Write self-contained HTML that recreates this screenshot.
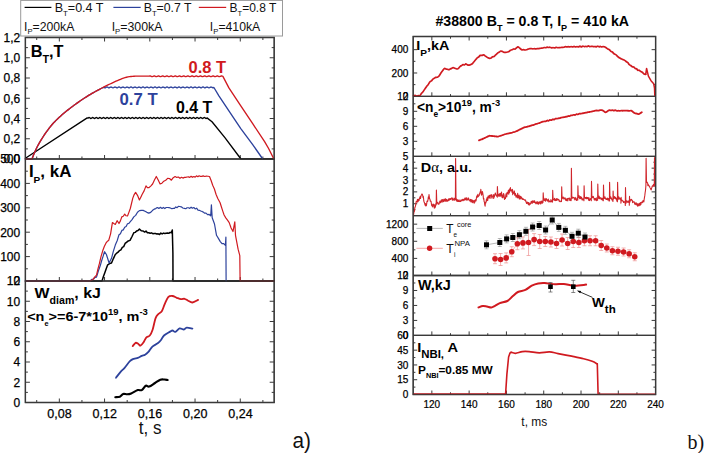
<!DOCTYPE html>
<html><head><meta charset="utf-8"><style>
html,body{margin:0;padding:0;background:#fff;}
svg{display:block;}
svg{font-family:"Liberation Sans", sans-serif;}
</style></head><body>
<svg width="704" height="453" viewBox="0 0 704 453">
<rect width="704" height="453" fill="#fff"/>
<rect x="20.7" y="0.4" width="261.8" height="35.6" fill="#fff" stroke="#9a9a9a" stroke-width="1"/>
<line x1="24.60" y1="7.40" x2="51.40" y2="7.40" stroke="#000" stroke-width="1.2"/>
<line x1="113.40" y1="7.40" x2="140.70" y2="7.40" stroke="#2d429c" stroke-width="1.2"/>
<line x1="198.80" y1="7.40" x2="226.20" y2="7.40" stroke="#d01a20" stroke-width="1.2"/>
<text transform="matrix(1.0468,0,0,1.0,54.65,11.80)" x="0" y="0" fill="#111" xml:space="preserve"><tspan font-size="12" dy="0.00">B</tspan><tspan font-size="7.5" dy="3.90">T</tspan><tspan font-size="12" dy="-3.90">=0.4 T</tspan></text>
<text transform="matrix(1.0259,0,0,1.0,143.67,11.80)" x="0" y="0" fill="#111" xml:space="preserve"><tspan font-size="12" dy="0.00">B</tspan><tspan font-size="7.5" dy="3.90">T</tspan><tspan font-size="12" dy="-3.90">=0.7 T</tspan></text>
<text transform="matrix(1.0028,0,0,1.0,229.50,11.80)" x="0" y="0" fill="#111" xml:space="preserve"><tspan font-size="12" dy="0.00">B</tspan><tspan font-size="7.5" dy="3.90">T</tspan><tspan font-size="12" dy="-3.90">=0.8 T</tspan></text>
<text transform="matrix(1.0197,0,0,1.0,24.05,30.70)" x="0" y="0" fill="#111" xml:space="preserve"><tspan font-size="12" dy="0.00">I</tspan><tspan font-size="7.5" dy="3.70">P</tspan><tspan font-size="12" dy="-3.70">=200kA</tspan></text>
<text transform="matrix(1.0321,0,0,1.0,111.64,30.70)" x="0" y="0" fill="#111" xml:space="preserve"><tspan font-size="12" dy="0.00">I</tspan><tspan font-size="7.5" dy="3.70">P</tspan><tspan font-size="12" dy="-3.70">=300kA</tspan></text>
<text transform="matrix(1.0218,0,0,1.0,209.85,30.70)" x="0" y="0" fill="#111" xml:space="preserve"><tspan font-size="12" dy="0.00">I</tspan><tspan font-size="7.5" dy="3.70">P</tspan><tspan font-size="12" dy="-3.70">=410kA</tspan></text>
<rect x="25.4" y="37.5" width="248.80" height="365.00" fill="none" stroke="#3a3a3a" stroke-width="1.3"/>
<line x1="25.40" y1="159.00" x2="274.20" y2="159.00" stroke="#3a3a3a" stroke-width="1.3"/>
<line x1="25.40" y1="281.00" x2="274.20" y2="281.00" stroke="#3a3a3a" stroke-width="1.3"/>
<line x1="36.71" y1="159.00" x2="36.71" y2="156.50" stroke="#3a3a3a" stroke-width="1.0"/>
<line x1="36.71" y1="37.50" x2="36.71" y2="40.00" stroke="#3a3a3a" stroke-width="1.0"/>
<line x1="59.33" y1="159.00" x2="59.33" y2="155.00" stroke="#3a3a3a" stroke-width="1.0"/>
<line x1="59.33" y1="37.50" x2="59.33" y2="41.50" stroke="#3a3a3a" stroke-width="1.0"/>
<line x1="81.95" y1="159.00" x2="81.95" y2="156.50" stroke="#3a3a3a" stroke-width="1.0"/>
<line x1="81.95" y1="37.50" x2="81.95" y2="40.00" stroke="#3a3a3a" stroke-width="1.0"/>
<line x1="104.56" y1="159.00" x2="104.56" y2="155.00" stroke="#3a3a3a" stroke-width="1.0"/>
<line x1="104.56" y1="37.50" x2="104.56" y2="41.50" stroke="#3a3a3a" stroke-width="1.0"/>
<line x1="127.18" y1="159.00" x2="127.18" y2="156.50" stroke="#3a3a3a" stroke-width="1.0"/>
<line x1="127.18" y1="37.50" x2="127.18" y2="40.00" stroke="#3a3a3a" stroke-width="1.0"/>
<line x1="149.80" y1="159.00" x2="149.80" y2="155.00" stroke="#3a3a3a" stroke-width="1.0"/>
<line x1="149.80" y1="37.50" x2="149.80" y2="41.50" stroke="#3a3a3a" stroke-width="1.0"/>
<line x1="172.42" y1="159.00" x2="172.42" y2="156.50" stroke="#3a3a3a" stroke-width="1.0"/>
<line x1="172.42" y1="37.50" x2="172.42" y2="40.00" stroke="#3a3a3a" stroke-width="1.0"/>
<line x1="195.04" y1="159.00" x2="195.04" y2="155.00" stroke="#3a3a3a" stroke-width="1.0"/>
<line x1="195.04" y1="37.50" x2="195.04" y2="41.50" stroke="#3a3a3a" stroke-width="1.0"/>
<line x1="217.65" y1="159.00" x2="217.65" y2="156.50" stroke="#3a3a3a" stroke-width="1.0"/>
<line x1="217.65" y1="37.50" x2="217.65" y2="40.00" stroke="#3a3a3a" stroke-width="1.0"/>
<line x1="240.27" y1="159.00" x2="240.27" y2="155.00" stroke="#3a3a3a" stroke-width="1.0"/>
<line x1="240.27" y1="37.50" x2="240.27" y2="41.50" stroke="#3a3a3a" stroke-width="1.0"/>
<line x1="262.89" y1="159.00" x2="262.89" y2="156.50" stroke="#3a3a3a" stroke-width="1.0"/>
<line x1="262.89" y1="37.50" x2="262.89" y2="40.00" stroke="#3a3a3a" stroke-width="1.0"/>
<line x1="36.71" y1="281.00" x2="36.71" y2="278.50" stroke="#3a3a3a" stroke-width="1.0"/>
<line x1="59.33" y1="281.00" x2="59.33" y2="277.00" stroke="#3a3a3a" stroke-width="1.0"/>
<line x1="81.95" y1="281.00" x2="81.95" y2="278.50" stroke="#3a3a3a" stroke-width="1.0"/>
<line x1="104.56" y1="281.00" x2="104.56" y2="277.00" stroke="#3a3a3a" stroke-width="1.0"/>
<line x1="127.18" y1="281.00" x2="127.18" y2="278.50" stroke="#3a3a3a" stroke-width="1.0"/>
<line x1="149.80" y1="281.00" x2="149.80" y2="277.00" stroke="#3a3a3a" stroke-width="1.0"/>
<line x1="172.42" y1="281.00" x2="172.42" y2="278.50" stroke="#3a3a3a" stroke-width="1.0"/>
<line x1="195.04" y1="281.00" x2="195.04" y2="277.00" stroke="#3a3a3a" stroke-width="1.0"/>
<line x1="217.65" y1="281.00" x2="217.65" y2="278.50" stroke="#3a3a3a" stroke-width="1.0"/>
<line x1="240.27" y1="281.00" x2="240.27" y2="277.00" stroke="#3a3a3a" stroke-width="1.0"/>
<line x1="262.89" y1="281.00" x2="262.89" y2="278.50" stroke="#3a3a3a" stroke-width="1.0"/>
<line x1="36.71" y1="402.50" x2="36.71" y2="400.00" stroke="#3a3a3a" stroke-width="1.0"/>
<line x1="59.33" y1="402.50" x2="59.33" y2="398.50" stroke="#3a3a3a" stroke-width="1.0"/>
<line x1="81.95" y1="402.50" x2="81.95" y2="400.00" stroke="#3a3a3a" stroke-width="1.0"/>
<line x1="104.56" y1="402.50" x2="104.56" y2="398.50" stroke="#3a3a3a" stroke-width="1.0"/>
<line x1="127.18" y1="402.50" x2="127.18" y2="400.00" stroke="#3a3a3a" stroke-width="1.0"/>
<line x1="149.80" y1="402.50" x2="149.80" y2="398.50" stroke="#3a3a3a" stroke-width="1.0"/>
<line x1="172.42" y1="402.50" x2="172.42" y2="400.00" stroke="#3a3a3a" stroke-width="1.0"/>
<line x1="195.04" y1="402.50" x2="195.04" y2="398.50" stroke="#3a3a3a" stroke-width="1.0"/>
<line x1="217.65" y1="402.50" x2="217.65" y2="400.00" stroke="#3a3a3a" stroke-width="1.0"/>
<line x1="240.27" y1="402.50" x2="240.27" y2="398.50" stroke="#3a3a3a" stroke-width="1.0"/>
<line x1="262.89" y1="402.50" x2="262.89" y2="400.00" stroke="#3a3a3a" stroke-width="1.0"/>
<line x1="25.40" y1="148.88" x2="27.90" y2="148.88" stroke="#3a3a3a" stroke-width="1.0"/>
<line x1="274.20" y1="148.88" x2="271.70" y2="148.88" stroke="#3a3a3a" stroke-width="1.0"/>
<line x1="25.40" y1="138.75" x2="29.90" y2="138.75" stroke="#3a3a3a" stroke-width="1.0"/>
<line x1="274.20" y1="138.75" x2="269.70" y2="138.75" stroke="#3a3a3a" stroke-width="1.0"/>
<line x1="25.40" y1="128.62" x2="27.90" y2="128.62" stroke="#3a3a3a" stroke-width="1.0"/>
<line x1="274.20" y1="128.62" x2="271.70" y2="128.62" stroke="#3a3a3a" stroke-width="1.0"/>
<line x1="25.40" y1="118.50" x2="29.90" y2="118.50" stroke="#3a3a3a" stroke-width="1.0"/>
<line x1="274.20" y1="118.50" x2="269.70" y2="118.50" stroke="#3a3a3a" stroke-width="1.0"/>
<line x1="25.40" y1="108.38" x2="27.90" y2="108.38" stroke="#3a3a3a" stroke-width="1.0"/>
<line x1="274.20" y1="108.38" x2="271.70" y2="108.38" stroke="#3a3a3a" stroke-width="1.0"/>
<line x1="25.40" y1="98.25" x2="29.90" y2="98.25" stroke="#3a3a3a" stroke-width="1.0"/>
<line x1="274.20" y1="98.25" x2="269.70" y2="98.25" stroke="#3a3a3a" stroke-width="1.0"/>
<line x1="25.40" y1="88.12" x2="27.90" y2="88.12" stroke="#3a3a3a" stroke-width="1.0"/>
<line x1="274.20" y1="88.12" x2="271.70" y2="88.12" stroke="#3a3a3a" stroke-width="1.0"/>
<line x1="25.40" y1="78.00" x2="29.90" y2="78.00" stroke="#3a3a3a" stroke-width="1.0"/>
<line x1="274.20" y1="78.00" x2="269.70" y2="78.00" stroke="#3a3a3a" stroke-width="1.0"/>
<line x1="25.40" y1="67.88" x2="27.90" y2="67.88" stroke="#3a3a3a" stroke-width="1.0"/>
<line x1="274.20" y1="67.88" x2="271.70" y2="67.88" stroke="#3a3a3a" stroke-width="1.0"/>
<line x1="25.40" y1="57.75" x2="29.90" y2="57.75" stroke="#3a3a3a" stroke-width="1.0"/>
<line x1="274.20" y1="57.75" x2="269.70" y2="57.75" stroke="#3a3a3a" stroke-width="1.0"/>
<line x1="25.40" y1="47.62" x2="27.90" y2="47.62" stroke="#3a3a3a" stroke-width="1.0"/>
<line x1="274.20" y1="47.62" x2="271.70" y2="47.62" stroke="#3a3a3a" stroke-width="1.0"/>
<text x="20.20" y="163.32" font-size="12" text-anchor="end" fill="#000" stroke="#000" stroke-width="0.25">0,0</text>
<text x="20.20" y="143.07" font-size="12" text-anchor="end" fill="#000" stroke="#000" stroke-width="0.25">0,2</text>
<text x="20.20" y="122.82" font-size="12" text-anchor="end" fill="#000" stroke="#000" stroke-width="0.25">0,4</text>
<text x="20.20" y="102.57" font-size="12" text-anchor="end" fill="#000" stroke="#000" stroke-width="0.25">0,6</text>
<text x="20.20" y="82.32" font-size="12" text-anchor="end" fill="#000" stroke="#000" stroke-width="0.25">0,8</text>
<text x="20.20" y="62.07" font-size="12" text-anchor="end" fill="#000" stroke="#000" stroke-width="0.25">1,0</text>
<text x="20.20" y="41.82" font-size="12" text-anchor="end" fill="#000" stroke="#000" stroke-width="0.25">1,2</text>
<line x1="25.40" y1="268.80" x2="27.90" y2="268.80" stroke="#3a3a3a" stroke-width="1.0"/>
<line x1="274.20" y1="268.80" x2="271.70" y2="268.80" stroke="#3a3a3a" stroke-width="1.0"/>
<line x1="25.40" y1="256.60" x2="29.90" y2="256.60" stroke="#3a3a3a" stroke-width="1.0"/>
<line x1="274.20" y1="256.60" x2="269.70" y2="256.60" stroke="#3a3a3a" stroke-width="1.0"/>
<line x1="25.40" y1="244.40" x2="27.90" y2="244.40" stroke="#3a3a3a" stroke-width="1.0"/>
<line x1="274.20" y1="244.40" x2="271.70" y2="244.40" stroke="#3a3a3a" stroke-width="1.0"/>
<line x1="25.40" y1="232.20" x2="29.90" y2="232.20" stroke="#3a3a3a" stroke-width="1.0"/>
<line x1="274.20" y1="232.20" x2="269.70" y2="232.20" stroke="#3a3a3a" stroke-width="1.0"/>
<line x1="25.40" y1="220.00" x2="27.90" y2="220.00" stroke="#3a3a3a" stroke-width="1.0"/>
<line x1="274.20" y1="220.00" x2="271.70" y2="220.00" stroke="#3a3a3a" stroke-width="1.0"/>
<line x1="25.40" y1="207.80" x2="29.90" y2="207.80" stroke="#3a3a3a" stroke-width="1.0"/>
<line x1="274.20" y1="207.80" x2="269.70" y2="207.80" stroke="#3a3a3a" stroke-width="1.0"/>
<line x1="25.40" y1="195.60" x2="27.90" y2="195.60" stroke="#3a3a3a" stroke-width="1.0"/>
<line x1="274.20" y1="195.60" x2="271.70" y2="195.60" stroke="#3a3a3a" stroke-width="1.0"/>
<line x1="25.40" y1="183.40" x2="29.90" y2="183.40" stroke="#3a3a3a" stroke-width="1.0"/>
<line x1="274.20" y1="183.40" x2="269.70" y2="183.40" stroke="#3a3a3a" stroke-width="1.0"/>
<line x1="25.40" y1="171.20" x2="27.90" y2="171.20" stroke="#3a3a3a" stroke-width="1.0"/>
<line x1="274.20" y1="171.20" x2="271.70" y2="171.20" stroke="#3a3a3a" stroke-width="1.0"/>
<text x="20.20" y="285.32" font-size="12" text-anchor="end" fill="#000" stroke="#000" stroke-width="0.25">0</text>
<text x="20.20" y="260.92" font-size="12" text-anchor="end" fill="#000" stroke="#000" stroke-width="0.25">100</text>
<text x="20.20" y="236.52" font-size="12" text-anchor="end" fill="#000" stroke="#000" stroke-width="0.25">200</text>
<text x="20.20" y="212.12" font-size="12" text-anchor="end" fill="#000" stroke="#000" stroke-width="0.25">300</text>
<text x="20.20" y="187.72" font-size="12" text-anchor="end" fill="#000" stroke="#000" stroke-width="0.25">400</text>
<text x="20.20" y="163.32" font-size="12" text-anchor="end" fill="#000" stroke="#000" stroke-width="0.25">500</text>
<line x1="25.40" y1="392.38" x2="27.90" y2="392.38" stroke="#3a3a3a" stroke-width="1.0"/>
<line x1="274.20" y1="392.38" x2="271.70" y2="392.38" stroke="#3a3a3a" stroke-width="1.0"/>
<line x1="25.40" y1="382.25" x2="29.90" y2="382.25" stroke="#3a3a3a" stroke-width="1.0"/>
<line x1="274.20" y1="382.25" x2="269.70" y2="382.25" stroke="#3a3a3a" stroke-width="1.0"/>
<line x1="25.40" y1="372.12" x2="27.90" y2="372.12" stroke="#3a3a3a" stroke-width="1.0"/>
<line x1="274.20" y1="372.12" x2="271.70" y2="372.12" stroke="#3a3a3a" stroke-width="1.0"/>
<line x1="25.40" y1="362.00" x2="29.90" y2="362.00" stroke="#3a3a3a" stroke-width="1.0"/>
<line x1="274.20" y1="362.00" x2="269.70" y2="362.00" stroke="#3a3a3a" stroke-width="1.0"/>
<line x1="25.40" y1="351.88" x2="27.90" y2="351.88" stroke="#3a3a3a" stroke-width="1.0"/>
<line x1="274.20" y1="351.88" x2="271.70" y2="351.88" stroke="#3a3a3a" stroke-width="1.0"/>
<line x1="25.40" y1="341.75" x2="29.90" y2="341.75" stroke="#3a3a3a" stroke-width="1.0"/>
<line x1="274.20" y1="341.75" x2="269.70" y2="341.75" stroke="#3a3a3a" stroke-width="1.0"/>
<line x1="25.40" y1="331.62" x2="27.90" y2="331.62" stroke="#3a3a3a" stroke-width="1.0"/>
<line x1="274.20" y1="331.62" x2="271.70" y2="331.62" stroke="#3a3a3a" stroke-width="1.0"/>
<line x1="25.40" y1="321.50" x2="29.90" y2="321.50" stroke="#3a3a3a" stroke-width="1.0"/>
<line x1="274.20" y1="321.50" x2="269.70" y2="321.50" stroke="#3a3a3a" stroke-width="1.0"/>
<line x1="25.40" y1="311.38" x2="27.90" y2="311.38" stroke="#3a3a3a" stroke-width="1.0"/>
<line x1="274.20" y1="311.38" x2="271.70" y2="311.38" stroke="#3a3a3a" stroke-width="1.0"/>
<line x1="25.40" y1="301.25" x2="29.90" y2="301.25" stroke="#3a3a3a" stroke-width="1.0"/>
<line x1="274.20" y1="301.25" x2="269.70" y2="301.25" stroke="#3a3a3a" stroke-width="1.0"/>
<line x1="25.40" y1="291.12" x2="27.90" y2="291.12" stroke="#3a3a3a" stroke-width="1.0"/>
<line x1="274.20" y1="291.12" x2="271.70" y2="291.12" stroke="#3a3a3a" stroke-width="1.0"/>
<text x="20.20" y="406.82" font-size="12" text-anchor="end" fill="#000" stroke="#000" stroke-width="0.25">0</text>
<text x="20.20" y="386.57" font-size="12" text-anchor="end" fill="#000" stroke="#000" stroke-width="0.25">2</text>
<text x="20.20" y="366.32" font-size="12" text-anchor="end" fill="#000" stroke="#000" stroke-width="0.25">4</text>
<text x="20.20" y="346.07" font-size="12" text-anchor="end" fill="#000" stroke="#000" stroke-width="0.25">6</text>
<text x="20.20" y="325.82" font-size="12" text-anchor="end" fill="#000" stroke="#000" stroke-width="0.25">8</text>
<text x="20.20" y="305.57" font-size="12" text-anchor="end" fill="#000" stroke="#000" stroke-width="0.25">10</text>
<text x="20.20" y="285.32" font-size="12" text-anchor="end" fill="#000" stroke="#000" stroke-width="0.25">12</text>
<text x="59.53" y="418.00" font-size="12.5" text-anchor="middle" fill="#000" stroke="#000" stroke-width="0.25">0,08</text>
<text x="104.76" y="418.00" font-size="12.5" text-anchor="middle" fill="#000" stroke="#000" stroke-width="0.25">0,12</text>
<text x="150.00" y="418.00" font-size="12.5" text-anchor="middle" fill="#000" stroke="#000" stroke-width="0.25">0,16</text>
<text x="195.24" y="418.00" font-size="12.5" text-anchor="middle" fill="#000" stroke="#000" stroke-width="0.25">0,20</text>
<text x="240.47" y="418.00" font-size="12.5" text-anchor="middle" fill="#000" stroke="#000" stroke-width="0.25">0,24</text>
<text transform="matrix(0.9733,0,0,1.0,138.86,433.50)" x="0" y="0" fill="#111" xml:space="preserve"><tspan font-size="17.5" dy="0.00">t, s</tspan></text>
<text transform="matrix(0.9439,0,0,1.0,292.57,448.00)" x="0" y="0" fill="#111" xml:space="preserve"><tspan font-size="22" dy="0.00">a)</tspan></text>
<path d="M25.40,158.20 L87.20,117.90 L88.00,118.17 L88.60,117.68 L89.20,117.51 L89.80,117.83 L90.40,118.32 L91.00,118.49 L91.60,118.17 L92.20,117.68 L92.80,117.51 L93.40,117.83 L94.00,118.32 L94.60,118.49 L95.20,118.17 L95.80,117.68 L96.40,117.51 L97.00,117.83 L97.60,118.32 L98.20,118.49 L98.80,118.17 L99.40,117.68 L100.00,117.51 L100.60,117.83 L101.20,118.32 L101.80,118.49 L102.40,118.17 L103.00,117.68 L103.60,117.51 L104.20,117.83 L104.80,118.32 L105.40,118.49 L106.00,118.17 L106.60,117.68 L107.20,117.51 L107.80,117.83 L108.40,118.32 L109.00,118.49 L109.60,118.17 L110.20,117.68 L110.80,117.51 L111.40,117.83 L112.00,118.32 L112.60,118.49 L113.20,118.17 L113.80,117.68 L114.40,117.51 L115.00,117.83 L115.60,118.32 L116.20,118.49 L116.80,118.17 L117.40,117.68 L118.00,117.51 L118.60,117.83 L119.20,118.32 L119.80,118.49 L120.40,118.17 L121.00,117.68 L121.60,117.51 L122.20,117.83 L122.80,118.32 L123.40,118.49 L124.00,118.17 L124.60,117.68 L125.20,117.51 L125.80,117.83 L126.40,118.32 L127.00,118.49 L127.60,118.17 L128.20,117.68 L128.80,117.51 L129.40,117.83 L130.00,118.32 L130.60,118.49 L131.20,118.17 L131.80,117.68 L132.40,117.51 L133.00,117.83 L133.60,118.32 L134.20,118.49 L134.80,118.17 L135.40,117.68 L136.00,117.51 L136.60,117.83 L137.20,118.32 L137.80,118.49 L138.40,118.17 L139.00,117.68 L139.60,117.51 L140.20,117.83 L140.80,118.32 L141.40,118.49 L142.00,118.17 L142.60,117.68 L143.20,117.51 L143.80,117.83 L144.40,118.32 L145.00,118.49 L145.60,118.17 L146.20,117.68 L146.80,117.51 L147.40,117.83 L148.00,118.32 L148.60,118.49 L149.20,118.17 L149.80,117.68 L150.40,117.51 L151.00,117.83 L151.60,118.32 L152.20,118.49 L152.80,118.17 L153.40,117.68 L154.00,117.51 L154.60,117.83 L155.20,118.32 L155.80,118.49 L156.40,118.17 L157.00,117.68 L157.60,117.51 L158.20,117.83 L158.80,118.32 L159.40,118.49 L160.00,118.17 L160.60,117.68 L161.20,117.51 L161.80,117.83 L162.40,118.32 L163.00,118.49 L163.60,118.17 L164.20,117.68 L164.80,117.51 L165.40,117.83 L166.00,118.32 L166.60,118.49 L167.20,118.17 L167.80,117.68 L168.40,117.51 L169.00,117.83 L169.60,118.32 L170.20,118.49 L170.80,118.17 L171.40,117.68 L172.00,117.51 L172.60,117.83 L173.20,118.32 L173.80,118.49 L174.40,118.17 L175.00,117.68 L175.60,117.51 L176.20,117.83 L176.80,118.32 L177.40,118.49 L178.00,118.17 L178.60,117.68 L179.20,117.51 L179.80,117.83 L180.40,118.32 L181.00,118.49 L181.60,118.17 L182.20,117.68 L182.80,117.51 L183.40,117.83 L184.00,118.32 L184.60,118.49 L185.20,118.17 L185.80,117.68 L186.40,117.51 L187.00,117.83 L187.60,118.32 L188.20,118.49 L188.80,118.17 L189.40,117.68 L190.00,117.51 L190.60,117.83 L191.20,118.32 L191.80,118.49 L192.40,118.17 L193.00,117.68 L193.60,117.51 L194.20,117.83 L194.80,118.32 L195.40,118.49 L196.00,118.17 L196.60,117.68 L197.20,117.51 L197.80,117.83 L198.40,118.32 L199.00,118.49 L199.60,118.17 L200.20,117.68 L200.80,117.51 L201.40,117.83 L202.00,118.32 L202.60,118.49 L203.20,118.17 L203.80,117.68 L204.40,117.51 L205.00,117.83 L205.60,118.32 L206.20,118.49 L206.80,118.17 L207.00,117.90 L212.00,121.70 L224.90,137.60 L239.80,157.50 L240.80,158.80 L274.20,158.80" fill="none" stroke="#000" stroke-width="1.35" stroke-linejoin="round" stroke-linecap="round"/>
<path d="M25.40,159.00 L32.00,159.00 L33.50,155.06 L35.00,151.42 L36.50,148.19 L38.00,145.30 L39.50,142.64 L41.00,140.15 L42.50,137.74 L44.00,135.41 L45.50,133.18 L47.00,131.05 L48.50,129.03 L50.00,127.12 L51.50,125.29 L53.00,123.55 L54.50,121.91 L56.00,120.37 L57.50,118.91 L59.00,117.51 L60.50,116.16 L62.00,114.83 L63.50,113.54 L65.00,112.28 L66.50,111.05 L68.00,109.85 L69.50,108.68 L71.00,107.54 L72.50,106.42 L74.00,105.32 L75.50,104.24 L77.00,103.17 L78.50,102.11 L80.00,101.07 L81.50,100.04 L83.00,99.03 L84.50,98.04 L86.00,97.07 L87.50,96.12 L89.00,95.20 L90.50,94.30 L92.00,93.43 L93.50,92.58 L95.00,91.74 L96.50,90.92 L98.00,90.11 L99.50,89.31 L101.00,88.51 L102.50,87.73 L104.00,87.40 L104.60,87.72 L105.20,87.78 L105.80,87.52 L106.40,87.16 L107.00,87.00 L107.60,87.16 L108.20,87.52 L108.80,87.78 L109.40,87.72 L110.00,87.40 L110.60,87.08 L111.20,87.02 L111.80,87.28 L112.40,87.64 L113.00,87.80 L113.60,87.64 L114.20,87.28 L114.80,87.02 L115.40,87.08 L116.00,87.40 L116.60,87.72 L117.20,87.78 L117.80,87.52 L118.40,87.16 L119.00,87.00 L119.60,87.16 L120.20,87.52 L120.80,87.78 L121.40,87.72 L122.00,87.40 L122.60,87.08 L123.20,87.02 L123.80,87.28 L124.40,87.64 L125.00,87.80 L125.60,87.64 L126.20,87.28 L126.80,87.02 L127.40,87.08 L128.00,87.40 L128.60,87.72 L129.20,87.78 L129.80,87.52 L130.40,87.16 L131.00,87.00 L131.60,87.16 L132.20,87.52 L132.80,87.78 L133.40,87.72 L134.00,87.40 L134.60,87.08 L135.20,87.02 L135.80,87.28 L136.40,87.64 L137.00,87.80 L137.60,87.64 L138.20,87.28 L138.80,87.02 L139.40,87.08 L140.00,87.40 L140.60,87.72 L141.20,87.78 L141.80,87.52 L142.40,87.16 L143.00,87.00 L143.60,87.16 L144.20,87.52 L144.80,87.78 L145.40,87.72 L146.00,87.40 L146.60,87.08 L147.20,87.02 L147.80,87.28 L148.40,87.64 L149.00,87.80 L149.60,87.64 L150.20,87.28 L150.80,87.02 L151.40,87.08 L152.00,87.40 L152.60,87.72 L153.20,87.78 L153.80,87.52 L154.40,87.16 L155.00,87.00 L155.60,87.16 L156.20,87.52 L156.80,87.78 L157.40,87.72 L158.00,87.40 L158.60,87.08 L159.20,87.02 L159.80,87.28 L160.40,87.64 L161.00,87.80 L161.60,87.64 L162.20,87.28 L162.80,87.02 L163.40,87.08 L164.00,87.40 L164.60,87.72 L165.20,87.78 L165.80,87.52 L166.40,87.16 L167.00,87.00 L167.60,87.16 L168.20,87.52 L168.80,87.78 L169.40,87.72 L170.00,87.40 L170.60,87.08 L171.20,87.02 L171.80,87.28 L172.40,87.64 L173.00,87.80 L173.60,87.64 L174.20,87.28 L174.80,87.02 L175.40,87.08 L176.00,87.40 L176.60,87.72 L177.20,87.78 L177.80,87.52 L178.40,87.16 L179.00,87.00 L179.60,87.16 L180.20,87.52 L180.80,87.78 L181.40,87.72 L182.00,87.40 L182.60,87.08 L183.20,87.02 L183.80,87.28 L184.40,87.64 L185.00,87.80 L185.60,87.64 L186.20,87.28 L186.80,87.02 L187.40,87.08 L188.00,87.40 L188.60,87.72 L189.20,87.78 L189.80,87.52 L190.40,87.16 L191.00,87.00 L191.60,87.16 L192.20,87.52 L192.80,87.78 L193.40,87.72 L194.00,87.40 L194.60,87.08 L195.20,87.02 L195.80,87.28 L196.40,87.64 L197.00,87.80 L197.60,87.64 L198.20,87.28 L198.80,87.02 L199.40,87.08 L200.00,87.40 L200.60,87.72 L201.20,87.78 L201.80,87.52 L202.40,87.16 L203.00,87.00 L203.60,87.16 L204.20,87.52 L204.80,87.78 L205.40,87.72 L206.00,87.40 L206.60,87.08 L207.20,87.02 L207.80,87.28 L208.40,87.64 L209.00,87.80 L209.60,87.64 L210.20,87.28 L210.80,87.02 L211.40,87.08 L212.00,87.40 L212.60,87.72 L213.20,87.78 L213.90,87.50 L218.90,95.80 L228.90,110.80 L240.80,128.60 L252.70,144.60 L261.70,157.50 L262.50,158.80" fill="none" stroke="#2d429c" stroke-width="1.35" stroke-linejoin="round" stroke-linecap="round"/>
<path d="M25.40,159.00 L32.00,159.00 L33.50,155.06 L35.00,151.42 L36.50,148.19 L38.00,145.30 L39.50,142.64 L41.00,140.15 L42.50,137.74 L44.00,135.41 L45.50,133.18 L47.00,131.05 L48.50,129.03 L50.00,127.12 L51.50,125.29 L53.00,123.55 L54.50,121.91 L56.00,120.37 L57.50,118.91 L59.00,117.51 L60.50,116.16 L62.00,114.83 L63.50,113.54 L65.00,112.28 L66.50,111.05 L68.00,109.85 L69.50,108.68 L71.00,107.54 L72.50,106.42 L74.00,105.32 L75.50,104.24 L77.00,103.17 L78.50,102.11 L80.00,101.07 L81.50,100.04 L83.00,99.03 L84.50,98.04 L86.00,97.07 L87.50,96.12 L89.00,95.20 L90.50,94.30 L92.00,93.43 L93.50,92.58 L95.00,91.74 L96.50,90.92 L98.00,90.11 L99.50,89.31 L101.00,88.51 L102.50,87.73 L104.00,86.96 L105.50,86.20 L107.00,85.45 L108.50,84.72 L110.00,84.00 L111.50,83.29 L113.00,82.60 L114.50,81.91 L116.00,81.24 L117.50,80.59 L119.00,79.94 L120.50,79.28 L122.00,78.64 L123.50,78.08 L125.00,77.65 L126.50,77.25 L128.00,76.91 L129.50,76.66 L131.00,76.50 L132.50,76.37 L134.00,76.25 L135.50,76.16 L137.00,76.11 L138.50,76.10 L140.00,76.10 L141.50,76.10 L143.00,76.10 L144.50,76.10 L146.00,76.10 L147.50,76.10 L149.00,76.10 L150.00,75.91 L150.60,75.99 L151.20,76.30 L151.80,76.61 L152.40,76.69 L153.00,76.47 L153.60,76.13 L154.20,75.91 L154.80,75.99 L155.40,76.30 L156.00,76.61 L156.60,76.69 L157.20,76.47 L157.80,76.13 L158.40,75.91 L159.00,75.99 L159.60,76.30 L160.20,76.61 L160.80,76.69 L161.40,76.47 L162.00,76.13 L162.60,75.91 L163.20,75.99 L163.80,76.30 L164.40,76.61 L165.00,76.69 L165.60,76.47 L166.20,76.13 L166.80,75.91 L167.40,75.99 L168.00,76.30 L168.60,76.61 L169.20,76.69 L169.80,76.47 L170.40,76.13 L171.00,75.91 L171.60,75.99 L172.20,76.30 L172.80,76.61 L173.40,76.69 L174.00,76.47 L174.60,76.13 L175.20,75.91 L175.80,75.99 L176.40,76.30 L177.00,76.61 L177.60,76.69 L178.20,76.47 L178.80,76.13 L179.40,75.91 L180.00,75.99 L180.60,76.30 L181.20,76.61 L181.80,76.69 L182.40,76.47 L183.00,76.13 L183.60,75.91 L184.20,75.99 L184.80,76.30 L185.40,76.61 L186.00,76.69 L186.60,76.47 L187.20,76.13 L187.80,75.91 L188.40,75.99 L189.00,76.30 L189.60,76.61 L190.20,76.69 L190.80,76.47 L191.40,76.13 L192.00,75.91 L192.60,75.99 L193.20,76.30 L193.80,76.61 L194.40,76.69 L195.00,76.47 L195.60,76.13 L196.20,75.91 L196.80,75.99 L197.40,76.30 L198.00,76.61 L198.60,76.69 L199.20,76.47 L199.80,76.13 L200.40,75.91 L201.00,75.99 L201.60,76.30 L202.20,76.61 L202.80,76.69 L203.40,76.47 L204.00,76.13 L204.60,75.91 L205.20,75.99 L205.80,76.30 L206.40,76.61 L207.00,76.69 L207.60,76.47 L208.20,76.13 L208.80,75.91 L209.40,75.99 L210.00,76.30 L210.60,76.61 L211.20,76.69 L211.80,76.47 L212.40,76.13 L213.00,75.91 L213.60,75.99 L214.20,76.30 L214.80,76.61 L215.40,76.69 L216.00,76.47 L216.60,76.13 L217.20,75.91 L217.80,75.99 L218.40,76.30 L219.00,76.61 L219.60,76.69 L220.20,76.47 L220.80,76.13 L221.40,75.91 L222.00,75.99 L222.90,76.40 L228.90,87.90 L240.80,105.80 L252.70,123.70 L264.60,141.60 L268.60,148.50 L273.60,158.50" fill="none" stroke="#d01a20" stroke-width="1.35" stroke-linejoin="round" stroke-linecap="round"/>
<text transform="matrix(0.9711,0,0,1.0,188.49,72.50)" x="0" y="0" font-weight="bold" fill="#d01a20" xml:space="preserve"><tspan font-size="17" dy="0.00">0.8 T</tspan></text>
<text transform="matrix(0.9868,0,0,1.0,119.48,104.70)" x="0" y="0" font-weight="bold" fill="#2d429c" xml:space="preserve"><tspan font-size="17" dy="0.00">0.7 T</tspan></text>
<text transform="matrix(0.9986,0,0,1.0,175.88,113.30)" x="0" y="0" font-weight="bold" fill="#000" xml:space="preserve"><tspan font-size="16" dy="0.00">0.4 T</tspan></text>
<text transform="matrix(0.9875,0,0,1.0,30.69,56.80)" x="0" y="0" font-weight="bold" fill="#000" xml:space="preserve"><tspan font-size="16.5" dy="0.00">B</tspan><tspan font-size="11" dy="5.90">T</tspan><tspan font-size="16.5" dy="-5.90">,T</tspan></text>
<path d="M25.40,281.00 L101.50,281.00 L102.10,280.80 L103.50,276.16 L104.90,272.40 L106.30,268.58 L107.70,264.80 L109.60,263.55 L111.50,263.00 L113.40,258.57 L115.30,254.50 L116.70,253.19 L118.10,252.13 L119.50,250.58 L120.90,249.80 L122.30,247.37 L123.70,246.66 L125.10,243.44 L126.50,242.30 L128.25,240.91 L130.00,240.40 L131.90,236.77 L133.80,232.80 L135.20,232.36 L136.60,231.00 L138.00,230.44 L139.40,229.10 L141.30,230.81 L143.20,231.00 L144.60,232.03 L146.00,231.09 L147.40,232.84 L148.80,232.80 L150.14,233.32 L151.49,232.83 L152.83,233.66 L154.17,233.41 L155.51,233.58 L156.86,234.04 L158.20,233.80 L159.52,234.47 L160.84,233.14 L162.16,233.95 L163.48,233.11 L164.80,233.58 L166.12,233.24 L167.44,232.99 L168.76,233.31 L170.08,232.34 L171.40,232.80 L172.30,230.00 L172.90,253.00 L173.00,281.00 L274.20,281.00" fill="none" stroke="#000" stroke-width="1.5" stroke-linejoin="round" stroke-linecap="round"/>
<path d="M25.40,281.00 L90.00,281.00 L91.80,279.35 L93.60,279.00 L95.05,277.44 L96.50,277.10 L98.35,271.04 L100.20,265.80 L101.63,260.76 L103.07,256.35 L104.50,251.70 L106.40,254.50 L107.75,258.74 L109.10,263.00 L111.50,258.30 L113.40,251.17 L115.30,245.10 L117.15,240.70 L119.00,234.80 L120.42,233.73 L121.85,230.42 L123.28,229.88 L124.70,227.30 L126.10,226.52 L127.50,223.79 L128.90,223.34 L130.30,221.60 L132.05,219.58 L133.80,216.90 L135.65,215.37 L137.50,212.20 L139.40,210.62 L141.30,210.30 L143.15,210.35 L145.00,211.20 L146.90,212.32 L148.80,213.10 L150.70,212.32 L152.60,210.30 L154.17,209.16 L155.73,208.60 L157.30,207.50 L158.87,208.39 L160.43,207.35 L162.00,208.40 L163.40,207.47 L164.80,208.52 L166.20,207.52 L167.60,207.50 L169.00,207.57 L170.40,208.01 L171.80,208.76 L173.20,208.40 L174.50,208.43 L175.80,206.90 L177.10,207.71 L178.40,206.28 L179.70,206.50 L181.27,206.85 L182.83,208.02 L184.40,208.40 L185.74,208.72 L187.09,207.77 L188.43,207.73 L189.77,208.37 L191.11,207.21 L192.46,208.21 L193.80,207.50 L195.20,208.95 L196.60,208.21 L198.00,210.16 L199.40,210.30 L200.72,210.96 L202.04,211.43 L203.36,212.10 L204.68,213.18 L206.00,213.10 L207.57,214.62 L209.13,214.47 L210.70,215.90 L211.40,204.80 L212.20,217.80 L214.50,224.00 L216.50,235.30 L218.40,238.35 L220.30,241.60 L222.00,243.64 L223.70,243.53 L225.40,245.40 L225.90,237.00 L226.10,281.00" fill="none" stroke="#2d429c" stroke-width="1.2" stroke-linejoin="round" stroke-linecap="round"/>
<path d="M25.40,281.00 L90.00,281.00 L91.35,280.29 L92.70,279.90 L94.60,277.11 L96.50,275.20 L97.90,269.10 L99.30,263.90 L101.00,256.63 L102.70,250.80 L104.30,246.46 L105.90,243.20 L107.30,241.32 L108.70,240.40 L110.60,233.80 L112.40,222.60 L113.85,223.55 L115.30,224.40 L117.10,220.70 L119.00,223.50 L120.40,220.91 L121.80,216.90 L123.25,216.23 L124.70,214.10 L126.10,215.77 L127.50,216.00 L128.90,212.37 L130.30,208.50 L132.80,198.10 L134.20,194.58 L135.60,192.40 L137.50,195.30 L139.40,200.00 L140.80,197.17 L142.20,194.30 L144.10,190.87 L146.00,185.90 L147.40,187.61 L148.80,187.70 L150.70,186.11 L152.60,184.00 L154.45,180.04 L156.30,176.50 L158.20,180.01 L160.10,184.00 L161.95,183.19 L163.80,181.20 L165.70,180.29 L167.60,178.30 L169.50,178.49 L171.40,180.20 L173.25,177.68 L175.10,176.50 L176.73,177.41 L178.37,176.99 L180.00,178.30 L181.47,177.26 L182.93,178.10 L184.40,177.40 L185.74,177.35 L187.09,177.00 L188.43,176.88 L189.77,177.39 L191.11,176.27 L192.46,177.33 L193.80,176.50 L195.14,177.10 L196.49,175.81 L197.83,176.70 L199.17,175.74 L200.51,176.42 L201.86,176.41 L203.20,175.90 L204.77,176.49 L206.35,176.17 L207.93,176.27 L209.50,176.50 L211.10,180.51 L212.70,185.30 L214.40,189.00 L216.10,194.55 L217.80,198.50 L220.10,202.80 L221.43,207.05 L222.77,211.08 L224.10,215.00 L225.80,217.87 L227.50,220.16 L229.20,222.60 L231.10,228.00 L233.00,231.50 L234.80,221.80 L235.50,235.30 L238.10,249.20 L239.80,255.60 L240.10,281.00 L274.20,281.00" fill="none" stroke="#d01a20" stroke-width="1.2" stroke-linejoin="round" stroke-linecap="round"/>
<text transform="matrix(1.0589,0,0,1.0,28.91,177.00)" x="0" y="0" font-weight="bold" fill="#000" xml:space="preserve"><tspan font-size="16" dy="0.00">I</tspan><tspan font-size="9.5" dy="6.00">P</tspan><tspan font-size="16" dy="-6.00">, kA</tspan></text>
<path d="M132.70,346.10 C133.18,345.55 134.65,343.15 135.60,342.80 C136.55,342.45 137.58,343.52 138.40,344.00 C139.22,344.48 139.67,345.93 140.50,345.70 C141.33,345.47 142.45,343.95 143.40,342.60 C144.35,341.25 145.13,338.78 146.20,337.60 C147.27,336.42 148.73,336.80 149.80,335.50 C150.87,334.20 151.65,332.65 152.60,329.80 C153.55,326.95 154.55,321.02 155.50,318.40 C156.45,315.78 157.25,315.28 158.30,314.10 C159.35,312.92 160.73,312.95 161.80,311.30 C162.87,309.65 163.63,306.57 164.70,304.20 C165.77,301.83 166.90,298.47 168.20,297.10 C169.50,295.73 171.07,295.88 172.50,296.00 C173.93,296.12 175.38,297.27 176.80,297.80 C178.22,298.33 179.70,299.03 181.00,299.20 C182.30,299.37 183.42,298.55 184.60,298.80 C185.78,299.05 186.80,300.08 188.10,300.70 C189.40,301.32 190.73,302.63 192.40,302.50 C194.07,302.37 197.15,300.33 198.10,299.90" fill="none" stroke="#d01a20" stroke-width="1.8" stroke-linejoin="round" stroke-linecap="round"/>
<path d="M116.00,377.70 C116.77,376.72 119.17,373.45 120.60,371.80 C122.03,370.15 123.05,369.57 124.60,367.80 C126.15,366.03 128.37,362.70 129.90,361.20 C131.43,359.70 132.48,359.35 133.80,358.80 C135.12,358.25 136.47,358.38 137.80,357.90 C139.13,357.42 140.58,356.42 141.80,355.90 C143.02,355.38 144.00,355.47 145.10,354.80 C146.20,354.13 147.18,353.27 148.40,351.90 C149.62,350.53 150.85,348.03 152.40,346.60 C153.95,345.17 156.27,344.40 157.70,343.30 C159.13,342.20 159.95,341.30 161.00,340.00 C162.05,338.70 162.55,336.85 164.00,335.50 C165.45,334.15 168.28,332.73 169.70,331.90 C171.12,331.07 171.57,330.50 172.50,330.50 C173.43,330.50 174.12,332.25 175.30,331.90 C176.48,331.55 178.17,328.80 179.60,328.40 C181.03,328.00 182.72,329.63 183.90,329.50 C185.08,329.37 185.28,327.75 186.70,327.60 C188.12,327.45 191.45,328.43 192.40,328.60" fill="none" stroke="#2d429c" stroke-width="1.8" stroke-linejoin="round" stroke-linecap="round"/>
<path d="M115.30,397.20 C116.07,397.12 118.58,397.23 119.90,396.70 C121.22,396.17 121.98,394.40 123.20,394.00 C124.42,393.60 125.87,394.40 127.20,394.30 C128.53,394.20 129.43,394.10 131.20,393.40 C132.97,392.70 136.03,390.65 137.80,390.10 C139.57,389.55 140.47,390.83 141.80,390.10 C143.13,389.37 144.58,386.28 145.80,385.70 C147.02,385.12 147.57,387.05 149.10,386.60 C150.63,386.15 153.13,384.15 155.00,383.00 C156.87,381.85 158.75,380.28 160.30,379.70 C161.85,379.12 163.08,379.45 164.30,379.50 C165.52,379.55 167.05,379.92 167.60,380.00" fill="none" stroke="#000" stroke-width="2.1" stroke-linejoin="round" stroke-linecap="round"/>
<text transform="matrix(1.0602,0,0,1.0,34.60,298.30)" x="0" y="0" font-weight="bold" fill="#000" xml:space="preserve"><tspan font-size="15" dy="0.00">W</tspan><tspan font-size="10" dy="5.80">diam</tspan><tspan font-size="15" dy="-5.80">, kJ</tspan></text>
<text transform="matrix(1.0549,0,0,1.0,27.14,320.60)" x="0" y="0" font-weight="bold" fill="#000" xml:space="preserve"><tspan font-size="13.7" dy="0.00">&lt;n</tspan><tspan font-size="7" dy="5.40">e</tspan><tspan font-size="13.7" dy="-5.40">&gt;=6-7*10</tspan><tspan font-size="9" dy="-5.80">19</tspan><tspan font-size="13.7" dy="5.80">, m</tspan><tspan font-size="9" dy="-5.80">-3</tspan></text>
<rect x="25.4" y="37.5" width="248.80" height="365.00" fill="none" stroke="#3a3a3a" stroke-width="1.3" stroke-opacity="0.85"/>
<line x1="25.40" y1="159.00" x2="274.20" y2="159.00" stroke="#3a3a3a" stroke-width="1.3" stroke-opacity="0.85"/>
<line x1="25.40" y1="281.00" x2="274.20" y2="281.00" stroke="#3a3a3a" stroke-width="1.3" stroke-opacity="0.85"/>
<text transform="matrix(1.0121,0,0,1.0,435.45,25.90)" x="0" y="0" font-weight="bold" fill="#000" xml:space="preserve"><tspan font-size="14" dy="0.00">#38800 B</tspan><tspan font-size="9" dy="4.70">T</tspan><tspan font-size="14" dy="-4.70"> = 0.8 T, I</tspan><tspan font-size="9" dy="4.70">P</tspan><tspan font-size="14" dy="-4.70"> = 410 kA</tspan></text>
<rect x="413.2" y="36.5" width="242.40" height="358.00" fill="none" stroke="#3a3a3a" stroke-width="1.3"/>
<line x1="413.20" y1="96.30" x2="655.60" y2="96.30" stroke="#3a3a3a" stroke-width="1.3"/>
<line x1="413.20" y1="156.30" x2="655.60" y2="156.30" stroke="#3a3a3a" stroke-width="1.3"/>
<line x1="413.20" y1="215.60" x2="655.60" y2="215.60" stroke="#3a3a3a" stroke-width="1.3"/>
<line x1="413.20" y1="275.50" x2="655.60" y2="275.50" stroke="#3a3a3a" stroke-width="1.3"/>
<line x1="413.20" y1="335.40" x2="655.60" y2="335.40" stroke="#3a3a3a" stroke-width="1.3"/>
<line x1="431.85" y1="96.30" x2="431.85" y2="92.30" stroke="#3a3a3a" stroke-width="1.0"/>
<line x1="431.85" y1="36.50" x2="431.85" y2="40.50" stroke="#3a3a3a" stroke-width="1.0"/>
<line x1="450.49" y1="96.30" x2="450.49" y2="94.10" stroke="#3a3a3a" stroke-width="1.0"/>
<line x1="450.49" y1="36.50" x2="450.49" y2="38.70" stroke="#3a3a3a" stroke-width="1.0"/>
<line x1="469.14" y1="96.30" x2="469.14" y2="92.30" stroke="#3a3a3a" stroke-width="1.0"/>
<line x1="469.14" y1="36.50" x2="469.14" y2="40.50" stroke="#3a3a3a" stroke-width="1.0"/>
<line x1="487.78" y1="96.30" x2="487.78" y2="94.10" stroke="#3a3a3a" stroke-width="1.0"/>
<line x1="487.78" y1="36.50" x2="487.78" y2="38.70" stroke="#3a3a3a" stroke-width="1.0"/>
<line x1="506.43" y1="96.30" x2="506.43" y2="92.30" stroke="#3a3a3a" stroke-width="1.0"/>
<line x1="506.43" y1="36.50" x2="506.43" y2="40.50" stroke="#3a3a3a" stroke-width="1.0"/>
<line x1="525.08" y1="96.30" x2="525.08" y2="94.10" stroke="#3a3a3a" stroke-width="1.0"/>
<line x1="525.08" y1="36.50" x2="525.08" y2="38.70" stroke="#3a3a3a" stroke-width="1.0"/>
<line x1="543.72" y1="96.30" x2="543.72" y2="92.30" stroke="#3a3a3a" stroke-width="1.0"/>
<line x1="543.72" y1="36.50" x2="543.72" y2="40.50" stroke="#3a3a3a" stroke-width="1.0"/>
<line x1="562.37" y1="96.30" x2="562.37" y2="94.10" stroke="#3a3a3a" stroke-width="1.0"/>
<line x1="562.37" y1="36.50" x2="562.37" y2="38.70" stroke="#3a3a3a" stroke-width="1.0"/>
<line x1="581.02" y1="96.30" x2="581.02" y2="92.30" stroke="#3a3a3a" stroke-width="1.0"/>
<line x1="581.02" y1="36.50" x2="581.02" y2="40.50" stroke="#3a3a3a" stroke-width="1.0"/>
<line x1="599.66" y1="96.30" x2="599.66" y2="94.10" stroke="#3a3a3a" stroke-width="1.0"/>
<line x1="599.66" y1="36.50" x2="599.66" y2="38.70" stroke="#3a3a3a" stroke-width="1.0"/>
<line x1="618.31" y1="96.30" x2="618.31" y2="92.30" stroke="#3a3a3a" stroke-width="1.0"/>
<line x1="618.31" y1="36.50" x2="618.31" y2="40.50" stroke="#3a3a3a" stroke-width="1.0"/>
<line x1="636.95" y1="96.30" x2="636.95" y2="94.10" stroke="#3a3a3a" stroke-width="1.0"/>
<line x1="636.95" y1="36.50" x2="636.95" y2="38.70" stroke="#3a3a3a" stroke-width="1.0"/>
<line x1="431.85" y1="156.30" x2="431.85" y2="152.30" stroke="#3a3a3a" stroke-width="1.0"/>
<line x1="450.49" y1="156.30" x2="450.49" y2="154.10" stroke="#3a3a3a" stroke-width="1.0"/>
<line x1="469.14" y1="156.30" x2="469.14" y2="152.30" stroke="#3a3a3a" stroke-width="1.0"/>
<line x1="487.78" y1="156.30" x2="487.78" y2="154.10" stroke="#3a3a3a" stroke-width="1.0"/>
<line x1="506.43" y1="156.30" x2="506.43" y2="152.30" stroke="#3a3a3a" stroke-width="1.0"/>
<line x1="525.08" y1="156.30" x2="525.08" y2="154.10" stroke="#3a3a3a" stroke-width="1.0"/>
<line x1="543.72" y1="156.30" x2="543.72" y2="152.30" stroke="#3a3a3a" stroke-width="1.0"/>
<line x1="562.37" y1="156.30" x2="562.37" y2="154.10" stroke="#3a3a3a" stroke-width="1.0"/>
<line x1="581.02" y1="156.30" x2="581.02" y2="152.30" stroke="#3a3a3a" stroke-width="1.0"/>
<line x1="599.66" y1="156.30" x2="599.66" y2="154.10" stroke="#3a3a3a" stroke-width="1.0"/>
<line x1="618.31" y1="156.30" x2="618.31" y2="152.30" stroke="#3a3a3a" stroke-width="1.0"/>
<line x1="636.95" y1="156.30" x2="636.95" y2="154.10" stroke="#3a3a3a" stroke-width="1.0"/>
<line x1="431.85" y1="215.60" x2="431.85" y2="211.60" stroke="#3a3a3a" stroke-width="1.0"/>
<line x1="450.49" y1="215.60" x2="450.49" y2="213.40" stroke="#3a3a3a" stroke-width="1.0"/>
<line x1="469.14" y1="215.60" x2="469.14" y2="211.60" stroke="#3a3a3a" stroke-width="1.0"/>
<line x1="487.78" y1="215.60" x2="487.78" y2="213.40" stroke="#3a3a3a" stroke-width="1.0"/>
<line x1="506.43" y1="215.60" x2="506.43" y2="211.60" stroke="#3a3a3a" stroke-width="1.0"/>
<line x1="525.08" y1="215.60" x2="525.08" y2="213.40" stroke="#3a3a3a" stroke-width="1.0"/>
<line x1="543.72" y1="215.60" x2="543.72" y2="211.60" stroke="#3a3a3a" stroke-width="1.0"/>
<line x1="562.37" y1="215.60" x2="562.37" y2="213.40" stroke="#3a3a3a" stroke-width="1.0"/>
<line x1="581.02" y1="215.60" x2="581.02" y2="211.60" stroke="#3a3a3a" stroke-width="1.0"/>
<line x1="599.66" y1="215.60" x2="599.66" y2="213.40" stroke="#3a3a3a" stroke-width="1.0"/>
<line x1="618.31" y1="215.60" x2="618.31" y2="211.60" stroke="#3a3a3a" stroke-width="1.0"/>
<line x1="636.95" y1="215.60" x2="636.95" y2="213.40" stroke="#3a3a3a" stroke-width="1.0"/>
<line x1="431.85" y1="275.50" x2="431.85" y2="271.50" stroke="#3a3a3a" stroke-width="1.0"/>
<line x1="450.49" y1="275.50" x2="450.49" y2="273.30" stroke="#3a3a3a" stroke-width="1.0"/>
<line x1="469.14" y1="275.50" x2="469.14" y2="271.50" stroke="#3a3a3a" stroke-width="1.0"/>
<line x1="487.78" y1="275.50" x2="487.78" y2="273.30" stroke="#3a3a3a" stroke-width="1.0"/>
<line x1="506.43" y1="275.50" x2="506.43" y2="271.50" stroke="#3a3a3a" stroke-width="1.0"/>
<line x1="525.08" y1="275.50" x2="525.08" y2="273.30" stroke="#3a3a3a" stroke-width="1.0"/>
<line x1="543.72" y1="275.50" x2="543.72" y2="271.50" stroke="#3a3a3a" stroke-width="1.0"/>
<line x1="562.37" y1="275.50" x2="562.37" y2="273.30" stroke="#3a3a3a" stroke-width="1.0"/>
<line x1="581.02" y1="275.50" x2="581.02" y2="271.50" stroke="#3a3a3a" stroke-width="1.0"/>
<line x1="599.66" y1="275.50" x2="599.66" y2="273.30" stroke="#3a3a3a" stroke-width="1.0"/>
<line x1="618.31" y1="275.50" x2="618.31" y2="271.50" stroke="#3a3a3a" stroke-width="1.0"/>
<line x1="636.95" y1="275.50" x2="636.95" y2="273.30" stroke="#3a3a3a" stroke-width="1.0"/>
<line x1="431.85" y1="335.40" x2="431.85" y2="331.40" stroke="#3a3a3a" stroke-width="1.0"/>
<line x1="450.49" y1="335.40" x2="450.49" y2="333.20" stroke="#3a3a3a" stroke-width="1.0"/>
<line x1="469.14" y1="335.40" x2="469.14" y2="331.40" stroke="#3a3a3a" stroke-width="1.0"/>
<line x1="487.78" y1="335.40" x2="487.78" y2="333.20" stroke="#3a3a3a" stroke-width="1.0"/>
<line x1="506.43" y1="335.40" x2="506.43" y2="331.40" stroke="#3a3a3a" stroke-width="1.0"/>
<line x1="525.08" y1="335.40" x2="525.08" y2="333.20" stroke="#3a3a3a" stroke-width="1.0"/>
<line x1="543.72" y1="335.40" x2="543.72" y2="331.40" stroke="#3a3a3a" stroke-width="1.0"/>
<line x1="562.37" y1="335.40" x2="562.37" y2="333.20" stroke="#3a3a3a" stroke-width="1.0"/>
<line x1="581.02" y1="335.40" x2="581.02" y2="331.40" stroke="#3a3a3a" stroke-width="1.0"/>
<line x1="599.66" y1="335.40" x2="599.66" y2="333.20" stroke="#3a3a3a" stroke-width="1.0"/>
<line x1="618.31" y1="335.40" x2="618.31" y2="331.40" stroke="#3a3a3a" stroke-width="1.0"/>
<line x1="636.95" y1="335.40" x2="636.95" y2="333.20" stroke="#3a3a3a" stroke-width="1.0"/>
<line x1="431.85" y1="394.50" x2="431.85" y2="390.50" stroke="#3a3a3a" stroke-width="1.0"/>
<line x1="450.49" y1="394.50" x2="450.49" y2="392.30" stroke="#3a3a3a" stroke-width="1.0"/>
<line x1="469.14" y1="394.50" x2="469.14" y2="390.50" stroke="#3a3a3a" stroke-width="1.0"/>
<line x1="487.78" y1="394.50" x2="487.78" y2="392.30" stroke="#3a3a3a" stroke-width="1.0"/>
<line x1="506.43" y1="394.50" x2="506.43" y2="390.50" stroke="#3a3a3a" stroke-width="1.0"/>
<line x1="525.08" y1="394.50" x2="525.08" y2="392.30" stroke="#3a3a3a" stroke-width="1.0"/>
<line x1="543.72" y1="394.50" x2="543.72" y2="390.50" stroke="#3a3a3a" stroke-width="1.0"/>
<line x1="562.37" y1="394.50" x2="562.37" y2="392.30" stroke="#3a3a3a" stroke-width="1.0"/>
<line x1="581.02" y1="394.50" x2="581.02" y2="390.50" stroke="#3a3a3a" stroke-width="1.0"/>
<line x1="599.66" y1="394.50" x2="599.66" y2="392.30" stroke="#3a3a3a" stroke-width="1.0"/>
<line x1="618.31" y1="394.50" x2="618.31" y2="390.50" stroke="#3a3a3a" stroke-width="1.0"/>
<line x1="636.95" y1="394.50" x2="636.95" y2="392.30" stroke="#3a3a3a" stroke-width="1.0"/>
<line x1="413.20" y1="84.64" x2="415.40" y2="84.64" stroke="#3a3a3a" stroke-width="1.0"/>
<line x1="655.60" y1="84.64" x2="653.40" y2="84.64" stroke="#3a3a3a" stroke-width="1.0"/>
<line x1="413.20" y1="72.99" x2="417.20" y2="72.99" stroke="#3a3a3a" stroke-width="1.0"/>
<line x1="655.60" y1="72.99" x2="651.60" y2="72.99" stroke="#3a3a3a" stroke-width="1.0"/>
<line x1="413.20" y1="61.33" x2="415.40" y2="61.33" stroke="#3a3a3a" stroke-width="1.0"/>
<line x1="655.60" y1="61.33" x2="653.40" y2="61.33" stroke="#3a3a3a" stroke-width="1.0"/>
<line x1="413.20" y1="49.67" x2="417.20" y2="49.67" stroke="#3a3a3a" stroke-width="1.0"/>
<line x1="655.60" y1="49.67" x2="651.60" y2="49.67" stroke="#3a3a3a" stroke-width="1.0"/>
<text x="408.30" y="99.90" font-size="10" text-anchor="end" fill="#000" stroke="#000" stroke-width="0.25">0</text>
<text x="408.30" y="76.59" font-size="10" text-anchor="end" fill="#000" stroke="#000" stroke-width="0.25">200</text>
<text x="408.30" y="53.27" font-size="10" text-anchor="end" fill="#000" stroke="#000" stroke-width="0.25">400</text>
<line x1="413.20" y1="148.80" x2="415.40" y2="148.80" stroke="#3a3a3a" stroke-width="1.0"/>
<line x1="655.60" y1="148.80" x2="653.40" y2="148.80" stroke="#3a3a3a" stroke-width="1.0"/>
<line x1="413.20" y1="141.30" x2="417.20" y2="141.30" stroke="#3a3a3a" stroke-width="1.0"/>
<line x1="655.60" y1="141.30" x2="651.60" y2="141.30" stroke="#3a3a3a" stroke-width="1.0"/>
<line x1="413.20" y1="133.80" x2="415.40" y2="133.80" stroke="#3a3a3a" stroke-width="1.0"/>
<line x1="655.60" y1="133.80" x2="653.40" y2="133.80" stroke="#3a3a3a" stroke-width="1.0"/>
<line x1="413.20" y1="126.30" x2="417.20" y2="126.30" stroke="#3a3a3a" stroke-width="1.0"/>
<line x1="655.60" y1="126.30" x2="651.60" y2="126.30" stroke="#3a3a3a" stroke-width="1.0"/>
<line x1="413.20" y1="118.80" x2="415.40" y2="118.80" stroke="#3a3a3a" stroke-width="1.0"/>
<line x1="655.60" y1="118.80" x2="653.40" y2="118.80" stroke="#3a3a3a" stroke-width="1.0"/>
<line x1="413.20" y1="111.30" x2="417.20" y2="111.30" stroke="#3a3a3a" stroke-width="1.0"/>
<line x1="655.60" y1="111.30" x2="651.60" y2="111.30" stroke="#3a3a3a" stroke-width="1.0"/>
<line x1="413.20" y1="103.80" x2="415.40" y2="103.80" stroke="#3a3a3a" stroke-width="1.0"/>
<line x1="655.60" y1="103.80" x2="653.40" y2="103.80" stroke="#3a3a3a" stroke-width="1.0"/>
<text x="408.30" y="144.90" font-size="10" text-anchor="end" fill="#000" stroke="#000" stroke-width="0.25">3</text>
<text x="408.30" y="129.90" font-size="10" text-anchor="end" fill="#000" stroke="#000" stroke-width="0.25">6</text>
<text x="408.30" y="114.90" font-size="10" text-anchor="end" fill="#000" stroke="#000" stroke-width="0.25">9</text>
<text x="408.30" y="99.90" font-size="10" text-anchor="end" fill="#000" stroke="#000" stroke-width="0.25">12</text>
<line x1="413.20" y1="209.67" x2="415.40" y2="209.67" stroke="#3a3a3a" stroke-width="1.0"/>
<line x1="655.60" y1="209.67" x2="653.40" y2="209.67" stroke="#3a3a3a" stroke-width="1.0"/>
<line x1="413.20" y1="203.74" x2="417.20" y2="203.74" stroke="#3a3a3a" stroke-width="1.0"/>
<line x1="655.60" y1="203.74" x2="651.60" y2="203.74" stroke="#3a3a3a" stroke-width="1.0"/>
<line x1="413.20" y1="197.81" x2="415.40" y2="197.81" stroke="#3a3a3a" stroke-width="1.0"/>
<line x1="655.60" y1="197.81" x2="653.40" y2="197.81" stroke="#3a3a3a" stroke-width="1.0"/>
<line x1="413.20" y1="191.88" x2="417.20" y2="191.88" stroke="#3a3a3a" stroke-width="1.0"/>
<line x1="655.60" y1="191.88" x2="651.60" y2="191.88" stroke="#3a3a3a" stroke-width="1.0"/>
<line x1="413.20" y1="185.95" x2="415.40" y2="185.95" stroke="#3a3a3a" stroke-width="1.0"/>
<line x1="655.60" y1="185.95" x2="653.40" y2="185.95" stroke="#3a3a3a" stroke-width="1.0"/>
<line x1="413.20" y1="180.02" x2="417.20" y2="180.02" stroke="#3a3a3a" stroke-width="1.0"/>
<line x1="655.60" y1="180.02" x2="651.60" y2="180.02" stroke="#3a3a3a" stroke-width="1.0"/>
<line x1="413.20" y1="174.09" x2="415.40" y2="174.09" stroke="#3a3a3a" stroke-width="1.0"/>
<line x1="655.60" y1="174.09" x2="653.40" y2="174.09" stroke="#3a3a3a" stroke-width="1.0"/>
<line x1="413.20" y1="168.16" x2="417.20" y2="168.16" stroke="#3a3a3a" stroke-width="1.0"/>
<line x1="655.60" y1="168.16" x2="651.60" y2="168.16" stroke="#3a3a3a" stroke-width="1.0"/>
<line x1="413.20" y1="162.23" x2="415.40" y2="162.23" stroke="#3a3a3a" stroke-width="1.0"/>
<line x1="655.60" y1="162.23" x2="653.40" y2="162.23" stroke="#3a3a3a" stroke-width="1.0"/>
<text x="408.30" y="207.34" font-size="10" text-anchor="end" fill="#000" stroke="#000" stroke-width="0.25">1</text>
<text x="408.30" y="195.48" font-size="10" text-anchor="end" fill="#000" stroke="#000" stroke-width="0.25">2</text>
<text x="408.30" y="183.62" font-size="10" text-anchor="end" fill="#000" stroke="#000" stroke-width="0.25">3</text>
<text x="408.30" y="171.76" font-size="10" text-anchor="end" fill="#000" stroke="#000" stroke-width="0.25">4</text>
<text x="408.30" y="159.90" font-size="10" text-anchor="end" fill="#000" stroke="#000" stroke-width="0.25">5</text>
<line x1="413.20" y1="266.94" x2="415.40" y2="266.94" stroke="#3a3a3a" stroke-width="1.0"/>
<line x1="655.60" y1="266.94" x2="653.40" y2="266.94" stroke="#3a3a3a" stroke-width="1.0"/>
<line x1="413.20" y1="258.39" x2="417.20" y2="258.39" stroke="#3a3a3a" stroke-width="1.0"/>
<line x1="655.60" y1="258.39" x2="651.60" y2="258.39" stroke="#3a3a3a" stroke-width="1.0"/>
<line x1="413.20" y1="249.83" x2="415.40" y2="249.83" stroke="#3a3a3a" stroke-width="1.0"/>
<line x1="655.60" y1="249.83" x2="653.40" y2="249.83" stroke="#3a3a3a" stroke-width="1.0"/>
<line x1="413.20" y1="241.27" x2="417.20" y2="241.27" stroke="#3a3a3a" stroke-width="1.0"/>
<line x1="655.60" y1="241.27" x2="651.60" y2="241.27" stroke="#3a3a3a" stroke-width="1.0"/>
<line x1="413.20" y1="232.71" x2="415.40" y2="232.71" stroke="#3a3a3a" stroke-width="1.0"/>
<line x1="655.60" y1="232.71" x2="653.40" y2="232.71" stroke="#3a3a3a" stroke-width="1.0"/>
<line x1="413.20" y1="224.16" x2="417.20" y2="224.16" stroke="#3a3a3a" stroke-width="1.0"/>
<line x1="655.60" y1="224.16" x2="651.60" y2="224.16" stroke="#3a3a3a" stroke-width="1.0"/>
<text x="408.30" y="279.10" font-size="10" text-anchor="end" fill="#000" stroke="#000" stroke-width="0.25">0</text>
<text x="408.30" y="261.99" font-size="10" text-anchor="end" fill="#000" stroke="#000" stroke-width="0.25">400</text>
<text x="408.30" y="244.87" font-size="10" text-anchor="end" fill="#000" stroke="#000" stroke-width="0.25">800</text>
<text x="408.30" y="227.76" font-size="10" text-anchor="end" fill="#000" stroke="#000" stroke-width="0.25">1200</text>
<line x1="413.20" y1="327.91" x2="415.40" y2="327.91" stroke="#3a3a3a" stroke-width="1.0"/>
<line x1="655.60" y1="327.91" x2="653.40" y2="327.91" stroke="#3a3a3a" stroke-width="1.0"/>
<line x1="413.20" y1="320.42" x2="417.20" y2="320.42" stroke="#3a3a3a" stroke-width="1.0"/>
<line x1="655.60" y1="320.42" x2="651.60" y2="320.42" stroke="#3a3a3a" stroke-width="1.0"/>
<line x1="413.20" y1="312.94" x2="415.40" y2="312.94" stroke="#3a3a3a" stroke-width="1.0"/>
<line x1="655.60" y1="312.94" x2="653.40" y2="312.94" stroke="#3a3a3a" stroke-width="1.0"/>
<line x1="413.20" y1="305.45" x2="417.20" y2="305.45" stroke="#3a3a3a" stroke-width="1.0"/>
<line x1="655.60" y1="305.45" x2="651.60" y2="305.45" stroke="#3a3a3a" stroke-width="1.0"/>
<line x1="413.20" y1="297.96" x2="415.40" y2="297.96" stroke="#3a3a3a" stroke-width="1.0"/>
<line x1="655.60" y1="297.96" x2="653.40" y2="297.96" stroke="#3a3a3a" stroke-width="1.0"/>
<line x1="413.20" y1="290.48" x2="417.20" y2="290.48" stroke="#3a3a3a" stroke-width="1.0"/>
<line x1="655.60" y1="290.48" x2="651.60" y2="290.48" stroke="#3a3a3a" stroke-width="1.0"/>
<line x1="413.20" y1="282.99" x2="415.40" y2="282.99" stroke="#3a3a3a" stroke-width="1.0"/>
<line x1="655.60" y1="282.99" x2="653.40" y2="282.99" stroke="#3a3a3a" stroke-width="1.0"/>
<text x="408.30" y="339.00" font-size="10" text-anchor="end" fill="#000" stroke="#000" stroke-width="0.25">0</text>
<text x="408.30" y="324.02" font-size="10" text-anchor="end" fill="#000" stroke="#000" stroke-width="0.25">3</text>
<text x="408.30" y="309.05" font-size="10" text-anchor="end" fill="#000" stroke="#000" stroke-width="0.25">6</text>
<text x="408.30" y="294.08" font-size="10" text-anchor="end" fill="#000" stroke="#000" stroke-width="0.25">9</text>
<text x="408.30" y="279.10" font-size="10" text-anchor="end" fill="#000" stroke="#000" stroke-width="0.25">12</text>
<line x1="413.20" y1="387.11" x2="415.40" y2="387.11" stroke="#3a3a3a" stroke-width="1.0"/>
<line x1="655.60" y1="387.11" x2="653.40" y2="387.11" stroke="#3a3a3a" stroke-width="1.0"/>
<line x1="413.20" y1="379.73" x2="417.20" y2="379.73" stroke="#3a3a3a" stroke-width="1.0"/>
<line x1="655.60" y1="379.73" x2="651.60" y2="379.73" stroke="#3a3a3a" stroke-width="1.0"/>
<line x1="413.20" y1="372.34" x2="415.40" y2="372.34" stroke="#3a3a3a" stroke-width="1.0"/>
<line x1="655.60" y1="372.34" x2="653.40" y2="372.34" stroke="#3a3a3a" stroke-width="1.0"/>
<line x1="413.20" y1="364.95" x2="417.20" y2="364.95" stroke="#3a3a3a" stroke-width="1.0"/>
<line x1="655.60" y1="364.95" x2="651.60" y2="364.95" stroke="#3a3a3a" stroke-width="1.0"/>
<line x1="413.20" y1="357.56" x2="415.40" y2="357.56" stroke="#3a3a3a" stroke-width="1.0"/>
<line x1="655.60" y1="357.56" x2="653.40" y2="357.56" stroke="#3a3a3a" stroke-width="1.0"/>
<line x1="413.20" y1="350.17" x2="417.20" y2="350.17" stroke="#3a3a3a" stroke-width="1.0"/>
<line x1="655.60" y1="350.17" x2="651.60" y2="350.17" stroke="#3a3a3a" stroke-width="1.0"/>
<line x1="413.20" y1="342.79" x2="415.40" y2="342.79" stroke="#3a3a3a" stroke-width="1.0"/>
<line x1="655.60" y1="342.79" x2="653.40" y2="342.79" stroke="#3a3a3a" stroke-width="1.0"/>
<text x="408.30" y="398.10" font-size="10" text-anchor="end" fill="#000" stroke="#000" stroke-width="0.25">0</text>
<text x="408.30" y="383.33" font-size="10" text-anchor="end" fill="#000" stroke="#000" stroke-width="0.25">15</text>
<text x="408.30" y="368.55" font-size="10" text-anchor="end" fill="#000" stroke="#000" stroke-width="0.25">30</text>
<text x="408.30" y="353.77" font-size="10" text-anchor="end" fill="#000" stroke="#000" stroke-width="0.25">45</text>
<text x="408.30" y="339.00" font-size="10" text-anchor="end" fill="#000" stroke="#000" stroke-width="0.25">60</text>
<text x="431.85" y="407.80" font-size="10" text-anchor="middle" fill="#000" stroke="#000" stroke-width="0.2">120</text>
<text x="469.14" y="407.80" font-size="10" text-anchor="middle" fill="#000" stroke="#000" stroke-width="0.2">140</text>
<text x="506.43" y="407.80" font-size="10" text-anchor="middle" fill="#000" stroke="#000" stroke-width="0.2">160</text>
<text x="543.72" y="407.80" font-size="10" text-anchor="middle" fill="#000" stroke="#000" stroke-width="0.2">180</text>
<text x="581.02" y="407.80" font-size="10" text-anchor="middle" fill="#000" stroke="#000" stroke-width="0.2">200</text>
<text x="618.31" y="407.80" font-size="10" text-anchor="middle" fill="#000" stroke="#000" stroke-width="0.2">220</text>
<text x="655.60" y="407.80" font-size="10" text-anchor="middle" fill="#000" stroke="#000" stroke-width="0.2">240</text>
<text transform="matrix(0.9555,0,0,1.0,521.36,426.30)" x="0" y="0" fill="#111" xml:space="preserve"><tspan font-size="12.5" dy="0.00">t, ms</tspan></text>
<text x="687.5" y="448.5" font-size="20" font-family="'Liberation Serif', serif" fill="#111">b)</text>
<path d="M413.50,95.80 C413.76,95.73 414.55,95.29 415.07,95.36 C415.60,95.43 416.12,96.18 416.65,96.20 C417.17,96.23 417.70,95.56 418.23,95.49 C418.75,95.43 419.25,96.15 419.80,95.80 C420.35,95.45 420.93,94.11 421.50,93.40 C422.07,92.68 422.63,92.25 423.20,91.50 C423.77,90.75 424.33,89.75 424.90,88.90 C425.47,88.05 426.03,87.15 426.60,86.40 C427.17,85.65 427.73,85.20 428.30,84.41 C428.87,83.63 429.48,82.28 430.00,81.70 C430.52,81.12 430.96,81.39 431.43,80.95 C431.91,80.51 432.39,79.52 432.87,79.06 C433.34,78.60 433.82,78.48 434.30,78.20 C434.78,77.92 435.26,77.54 435.73,77.37 C436.21,77.21 436.69,77.37 437.17,77.22 C437.64,77.07 437.94,77.24 438.60,76.50 C439.26,75.76 440.40,73.80 441.10,72.80 C441.80,71.80 442.23,71.22 442.80,70.50 C443.37,69.78 443.98,68.76 444.50,68.50 C445.02,68.24 445.46,68.83 445.93,68.96 C446.41,69.09 446.89,69.15 447.37,69.28 C447.84,69.40 448.32,69.75 448.80,69.70 C449.28,69.65 449.76,69.18 450.23,68.96 C450.71,68.73 451.19,68.57 451.67,68.36 C452.14,68.15 452.44,67.68 453.10,67.70 C453.76,67.72 454.90,68.28 455.60,68.50 C456.30,68.72 456.78,69.07 457.30,69.00 C457.82,68.93 458.26,68.55 458.73,68.11 C459.21,67.66 459.69,66.74 460.17,66.33 C460.64,65.91 461.13,65.89 461.60,65.60 C462.07,65.31 462.53,64.66 463.00,64.56 C463.47,64.45 463.93,65.06 464.40,64.95 C464.87,64.84 465.28,63.91 465.80,63.90 C466.32,63.89 466.93,64.72 467.50,64.92 C468.07,65.12 468.62,65.16 469.20,65.10 C469.77,65.04 470.37,64.84 470.95,64.55 C471.53,64.27 472.12,63.96 472.70,63.40 C473.27,62.84 473.83,61.91 474.40,61.21 C474.97,60.51 475.58,59.80 476.10,59.20 C476.62,58.60 477.03,58.02 477.50,57.61 C477.97,57.20 478.43,57.12 478.90,56.75 C479.37,56.38 479.78,55.63 480.30,55.40 C480.82,55.17 481.43,55.43 482.00,55.35 C482.57,55.27 483.20,54.82 483.70,54.90 C484.20,54.98 484.57,55.56 485.00,55.85 C485.43,56.13 485.80,56.28 486.30,56.60 C486.80,56.92 487.43,57.50 488.00,57.79 C488.57,58.07 489.18,58.27 489.70,58.30 C490.22,58.33 490.66,58.23 491.13,57.98 C491.61,57.73 492.09,57.05 492.57,56.82 C493.04,56.59 493.53,56.86 494.00,56.60 C494.47,56.34 494.93,55.66 495.40,55.23 C495.87,54.79 496.33,54.41 496.80,53.99 C497.27,53.57 497.75,53.06 498.20,52.70 C498.65,52.34 499.07,52.14 499.50,51.85 C499.93,51.57 500.30,51.05 500.80,51.00 C501.30,50.95 501.93,51.31 502.50,51.53 C503.07,51.74 503.63,52.16 504.20,52.30 C504.77,52.44 505.33,52.39 505.90,52.34 C506.47,52.29 507.08,52.14 507.60,52.00 C508.12,51.86 508.56,51.76 509.03,51.48 C509.51,51.20 509.99,50.58 510.47,50.30 C510.94,50.02 511.38,50.02 511.90,49.80 C512.42,49.58 513.03,49.12 513.60,48.97 C514.17,48.82 514.60,49.24 515.30,48.90 C516.00,48.56 517.14,47.11 517.80,46.90 C518.46,46.69 518.76,47.30 519.23,47.65 C519.71,47.99 520.19,48.62 520.67,48.98 C521.14,49.34 521.63,49.69 522.10,49.80 C522.57,49.91 523.03,49.62 523.50,49.65 C523.97,49.69 524.43,49.99 524.90,50.02 C525.37,50.04 525.77,49.95 526.30,49.80 C526.82,49.65 527.47,49.35 528.05,49.15 C528.63,48.95 529.24,48.68 529.80,48.60 C530.36,48.52 530.87,48.61 531.40,48.66 C531.93,48.71 532.50,48.90 533.00,48.90 C533.50,48.90 533.93,48.68 534.40,48.69 C534.87,48.69 535.33,48.95 535.80,48.94 C536.27,48.92 536.73,48.64 537.20,48.57 C537.67,48.51 538.13,48.58 538.60,48.55 C539.07,48.52 539.53,48.47 540.00,48.40 C540.47,48.33 540.95,48.20 541.42,48.13 C541.89,48.06 542.37,48.07 542.84,47.96 C543.31,47.85 543.79,47.51 544.26,47.48 C544.73,47.45 545.21,47.82 545.68,47.77 C546.15,47.72 546.62,47.24 547.10,47.20 C547.58,47.16 548.08,47.50 548.58,47.50 C549.07,47.51 549.56,47.16 550.05,47.22 C550.54,47.29 551.03,47.85 551.52,47.91 C552.02,47.97 552.49,47.61 553.00,47.60 C553.51,47.59 554.07,47.88 554.60,47.84 C555.13,47.80 555.67,47.37 556.20,47.35 C556.73,47.33 557.27,47.69 557.80,47.73 C558.33,47.78 558.89,47.64 559.40,47.60 C559.91,47.56 560.38,47.56 560.87,47.51 C561.36,47.47 561.84,47.37 562.33,47.32 C562.82,47.28 563.31,47.36 563.80,47.25 C564.29,47.15 564.78,46.77 565.27,46.71 C565.76,46.65 566.24,46.91 566.73,46.91 C567.22,46.91 567.71,46.69 568.20,46.70 C568.69,46.71 569.18,46.98 569.67,46.96 C570.16,46.93 570.64,46.59 571.13,46.58 C571.62,46.57 572.11,46.93 572.60,46.89 C573.09,46.86 573.58,46.37 574.07,46.37 C574.56,46.37 575.04,46.87 575.53,46.90 C576.02,46.94 576.51,46.60 577.00,46.60 C577.49,46.60 577.98,47.00 578.47,46.92 C578.96,46.84 579.44,46.13 579.93,46.11 C580.42,46.09 580.91,46.80 581.40,46.80 C581.89,46.79 582.38,46.10 582.87,46.09 C583.36,46.08 583.84,46.68 584.33,46.72 C584.82,46.75 585.34,46.32 585.80,46.30 C586.26,46.28 586.68,46.64 587.11,46.59 C587.55,46.53 587.99,45.96 588.43,45.96 C588.87,45.96 589.30,46.48 589.74,46.56 C590.18,46.64 590.62,46.47 591.06,46.43 C591.50,46.40 591.93,46.33 592.37,46.37 C592.81,46.41 593.25,46.64 593.69,46.66 C594.12,46.68 594.56,46.48 595.00,46.50 C595.44,46.52 595.89,46.87 596.33,46.80 C596.77,46.73 597.21,46.10 597.66,46.10 C598.10,46.09 598.54,46.74 598.99,46.79 C599.43,46.85 599.87,46.41 600.31,46.43 C600.76,46.45 601.20,46.87 601.64,46.90 C602.09,46.92 602.53,46.61 602.97,46.57 C603.41,46.54 603.78,46.50 604.30,46.70 C604.82,46.90 605.50,47.36 606.10,47.74 C606.70,48.13 607.36,48.67 607.90,49.00 C608.44,49.33 608.88,49.35 609.37,49.75 C609.86,50.15 610.34,51.03 610.83,51.40 C611.32,51.78 611.76,51.60 612.30,52.00 C612.84,52.40 613.47,53.34 614.05,53.78 C614.63,54.21 615.22,54.17 615.80,54.60 C616.38,55.03 616.97,55.84 617.55,56.38 C618.13,56.91 618.72,57.42 619.30,57.80 C619.88,58.18 620.47,58.35 621.05,58.64 C621.63,58.92 622.21,59.21 622.80,59.50 C623.39,59.79 624.00,60.01 624.60,60.38 C625.20,60.75 625.86,61.31 626.40,61.70 C626.94,62.09 627.38,62.22 627.87,62.71 C628.36,63.20 628.84,64.17 629.33,64.64 C629.82,65.10 630.31,65.14 630.80,65.50 C631.29,65.86 631.78,66.52 632.27,66.78 C632.76,67.04 633.24,66.80 633.73,67.07 C634.22,67.34 634.73,68.13 635.20,68.40 C635.67,68.67 636.08,68.39 636.53,68.70 C636.97,69.02 637.41,70.02 637.85,70.28 C638.29,70.53 638.73,70.06 639.17,70.23 C639.62,70.40 639.99,70.96 640.50,71.30 C641.01,71.64 641.67,71.79 642.25,72.24 C642.83,72.69 643.42,73.66 644.00,74.00 C644.58,74.34 645.42,74.25 645.70,74.30" fill="none" stroke="#d01a20" stroke-width="1.7" stroke-linejoin="round" stroke-linecap="round"/>
<path d="M645.70,74.30 L646.60,68.40 L648.40,76.10 L651.00,80.70 L653.70,83.70 L654.50,88.00 L654.80,95.50" fill="none" stroke="#d01a20" stroke-width="1.5" stroke-linejoin="round" stroke-linecap="round"/>
<text transform="matrix(1.0644,0,0,1.0,416.37,49.60)" x="0" y="0" font-weight="bold" fill="#000" xml:space="preserve"><tspan font-size="13.5" dy="0.00">I</tspan><tspan font-size="9.5" dy="6.00">P</tspan><tspan font-size="13.5" dy="-6.00">,kA</tspan></text>
<path d="M479.00,140.40 C479.28,140.26 480.11,139.77 480.67,139.56 C481.22,139.34 481.78,139.33 482.33,139.10 C482.89,138.88 483.43,138.47 484.00,138.20 C484.57,137.93 485.16,137.78 485.73,137.51 C486.31,137.24 486.89,136.87 487.47,136.58 C488.04,136.30 488.66,135.92 489.20,135.80 C489.74,135.68 490.19,135.84 490.68,135.87 C491.18,135.90 491.67,135.94 492.17,136.00 C492.66,136.06 493.16,136.16 493.65,136.22 C494.14,136.27 494.64,136.27 495.13,136.32 C495.63,136.37 496.12,136.47 496.62,136.52 C497.11,136.56 497.60,136.68 498.10,136.60 C498.60,136.52 499.13,136.17 499.64,136.01 C500.15,135.85 500.67,135.80 501.18,135.64 C501.69,135.48 502.21,135.23 502.72,135.04 C503.23,134.85 503.75,134.66 504.26,134.48 C504.77,134.31 505.30,134.13 505.80,134.00 C506.30,133.87 506.79,133.77 507.28,133.68 C507.78,133.59 508.27,133.55 508.77,133.44 C509.26,133.33 509.76,133.14 510.25,133.02 C510.74,132.91 511.24,132.90 511.73,132.76 C512.23,132.62 512.72,132.32 513.22,132.20 C513.71,132.07 514.20,132.15 514.70,132.00 C515.20,131.85 515.70,131.53 516.20,131.30 C516.70,131.07 517.20,130.86 517.70,130.60 C518.20,130.33 518.70,129.97 519.20,129.72 C519.70,129.46 520.20,129.28 520.70,129.05 C521.20,128.83 521.70,128.59 522.20,128.35 C522.70,128.11 523.21,127.79 523.70,127.60 C524.19,127.41 524.67,127.30 525.16,127.18 C525.64,127.07 526.13,127.02 526.61,126.90 C527.10,126.78 527.59,126.60 528.07,126.46 C528.56,126.32 529.04,126.20 529.53,126.06 C530.01,125.93 530.50,125.81 530.99,125.66 C531.47,125.51 531.96,125.31 532.44,125.17 C532.93,125.03 533.41,124.96 533.90,124.80 C534.39,124.64 534.90,124.39 535.40,124.22 C535.90,124.05 536.40,123.96 536.90,123.80 C537.40,123.64 537.90,123.43 538.40,123.26 C538.90,123.09 539.40,122.95 539.90,122.78 C540.40,122.60 540.90,122.37 541.40,122.20 C541.90,122.02 542.42,121.84 542.90,121.70 C543.38,121.56 543.83,121.44 544.30,121.37 C544.77,121.30 545.23,121.43 545.70,121.29 C546.17,121.15 546.63,120.61 547.10,120.53 C547.57,120.45 548.03,120.88 548.50,120.79 C548.97,120.70 549.43,120.11 549.90,119.99 C550.37,119.87 550.83,120.21 551.30,120.09 C551.77,119.97 552.23,119.35 552.70,119.26 C553.17,119.17 553.63,119.64 554.10,119.54 C554.57,119.45 555.03,118.83 555.50,118.69 C555.97,118.55 556.43,118.76 556.90,118.70 C557.37,118.64 557.83,118.42 558.30,118.33 C558.77,118.25 559.23,118.29 559.70,118.18 C560.17,118.08 560.63,117.85 561.10,117.72 C561.57,117.60 562.03,117.53 562.50,117.45 C562.97,117.37 563.43,117.34 563.90,117.23 C564.37,117.13 564.83,116.93 565.30,116.83 C565.77,116.73 566.23,116.77 566.70,116.64 C567.17,116.50 567.63,116.11 568.10,116.02 C568.57,115.94 569.03,116.26 569.50,116.14 C569.97,116.03 570.43,115.48 570.90,115.34 C571.37,115.19 571.83,115.39 572.30,115.30 C572.77,115.21 573.25,114.84 573.72,114.79 C574.20,114.74 574.67,115.10 575.14,115.00 C575.62,114.90 576.09,114.31 576.57,114.21 C577.04,114.12 577.51,114.53 577.99,114.45 C578.46,114.36 578.94,113.83 579.41,113.71 C579.89,113.59 580.36,113.80 580.83,113.73 C581.31,113.66 581.78,113.40 582.26,113.30 C582.73,113.21 583.20,113.25 583.68,113.17 C584.15,113.09 584.62,112.90 585.10,112.80 C585.58,112.70 586.07,112.66 586.56,112.55 C587.04,112.44 587.53,112.22 588.01,112.13 C588.50,112.04 588.99,112.09 589.47,112.01 C589.96,111.94 590.44,111.81 590.93,111.69 C591.41,111.56 591.90,111.40 592.39,111.29 C592.87,111.18 593.36,111.11 593.84,111.02 C594.33,110.92 594.79,110.79 595.30,110.70 C595.81,110.61 596.37,110.52 596.90,110.50 C597.43,110.48 597.97,110.64 598.50,110.58 C599.03,110.53 599.57,110.22 600.10,110.15 C600.63,110.09 601.12,110.06 601.70,110.20 C602.28,110.34 602.97,110.66 603.60,111.01 C604.23,111.36 604.86,112.26 605.50,112.30 C606.14,112.34 606.80,111.61 607.45,111.26 C608.10,110.91 608.83,110.33 609.40,110.20 C609.97,110.07 610.39,110.48 610.88,110.47 C611.38,110.46 611.87,110.10 612.37,110.12 C612.86,110.14 613.36,110.58 613.85,110.60 C614.34,110.62 614.84,110.19 615.33,110.23 C615.83,110.27 616.32,110.75 616.82,110.83 C617.31,110.91 617.82,110.68 618.30,110.70 C618.78,110.72 619.25,110.96 619.72,110.94 C620.20,110.92 620.67,110.61 621.14,110.58 C621.62,110.55 622.09,110.74 622.57,110.76 C623.04,110.77 623.51,110.67 623.99,110.66 C624.46,110.64 624.94,110.65 625.41,110.65 C625.89,110.66 626.36,110.66 626.83,110.68 C627.31,110.69 627.78,110.70 628.26,110.73 C628.73,110.76 629.20,110.86 629.68,110.86 C630.15,110.85 630.55,110.53 631.10,110.70 C631.65,110.87 632.37,111.46 633.00,111.89 C633.63,112.33 634.26,113.02 634.90,113.30 C635.54,113.58 636.20,113.44 636.85,113.57 C637.50,113.70 638.22,114.16 638.80,114.10 C639.38,114.04 639.80,113.51 640.30,113.21 C640.80,112.91 641.55,112.45 641.80,112.30" fill="none" stroke="#d01a20" stroke-width="1.8" stroke-linejoin="round" stroke-linecap="round"/>
<text transform="matrix(0.9868,0,0,1.0,416.88,112.00)" x="0" y="0" font-weight="bold" fill="#000" xml:space="preserve"><tspan font-size="14" dy="0.00">&lt;n</tspan><tspan font-size="8.5" dy="5.10">e</tspan><tspan font-size="14" dy="-5.10">&gt;10</tspan><tspan font-size="9.5" dy="-6.20">19</tspan><tspan font-size="14" dy="6.20">, m</tspan><tspan font-size="9.5" dy="-6.20">-3</tspan></text>
<path d="M413.50,215.00 L413.83,212.93 L414.16,211.13 L414.49,211.32 L414.82,207.65 L415.15,207.19 L415.48,205.89 L415.81,204.50 L416.14,201.56 L416.47,201.75 L416.80,201.14 L417.13,201.98 L417.46,199.29 L417.79,201.86 L418.12,199.29 L418.45,201.00 L418.78,199.87 L419.11,200.54 L419.44,198.09 L419.77,198.01 L420.10,196.56 L420.43,198.56 L420.76,197.18 L421.09,195.50 L421.42,194.96 L421.75,194.07 L422.08,194.00 L422.41,194.85 L422.74,195.57 L423.07,197.68 L423.40,196.57 L423.73,200.48 L424.06,202.15 L424.39,202.43 L424.72,203.60 L425.05,205.13 L425.38,203.57 L425.71,206.05 L426.04,204.21 L426.37,205.67 L426.70,203.72 L427.03,201.10 L427.36,201.25 L427.69,201.38 L428.02,199.51 L428.35,196.89 L428.68,198.76 L429.01,194.52 L429.34,197.26 L429.67,198.95 L430.00,199.38 L430.33,201.31 L430.66,201.04 L430.99,201.15 L431.32,203.29 L431.65,205.47 L431.98,205.95 L432.31,204.78 L432.64,207.02 L432.97,203.96 L433.30,205.83 L433.63,204.40 L433.96,205.77 L434.29,208.25 L434.62,204.82 L434.95,207.62 L435.28,207.02 L435.61,205.92 L435.94,203.32 L436.27,204.52 L436.20,204.67 L436.40,190.00 L436.80,203.48 L437.20,202.61 L437.53,203.03 L437.86,202.22 L438.19,204.29 L438.52,204.31 L438.85,204.15 L439.18,203.44 L439.51,202.72 L439.84,200.99 L440.17,202.06 L440.50,202.71 L440.83,202.50 L441.16,200.13 L441.49,199.88 L441.82,199.93 L442.15,202.25 L442.48,199.62 L442.81,200.27 L443.14,200.48 L443.47,201.66 L443.80,199.37 L444.13,199.70 L444.46,201.18 L444.79,199.08 L445.12,199.26 L445.45,198.80 L445.78,201.55 L446.11,199.33 L446.44,200.09 L446.77,199.68 L447.10,201.44 L447.43,200.58 L447.76,200.20 L448.09,199.82 L448.42,199.11 L448.75,200.77 L449.08,198.52 L449.41,200.03 L449.74,199.00 L450.07,198.90 L450.40,199.38 L450.73,198.54 L451.06,199.71 L451.39,198.10 L451.72,197.89 L452.05,198.21 L452.38,198.01 L452.71,200.33 L453.04,199.18 L453.37,199.64 L453.70,199.89 L454.03,198.01 L454.36,200.32 L454.69,198.57 L455.02,198.93 L455.35,199.24 L455.40,199.64 L455.60,158.60 L456.00,198.44 L456.40,200.79 L456.73,199.29 L457.06,201.42 L457.39,200.37 L457.72,199.78 L458.05,201.57 L458.38,201.54 L458.71,201.44 L459.04,199.78 L459.37,201.50 L459.70,201.03 L460.03,201.56 L460.36,200.85 L460.69,201.53 L461.02,199.91 L461.35,200.67 L461.68,200.71 L462.01,199.89 L462.34,199.77 L462.67,199.41 L463.00,200.76 L463.33,199.23 L463.66,200.28 L463.99,199.67 L464.32,200.05 L464.65,198.80 L464.98,198.06 L465.31,199.79 L465.64,198.15 L465.97,198.73 L466.30,199.94 L466.63,197.69 L466.96,200.22 L467.29,199.20 L467.62,199.14 L467.95,199.65 L468.28,197.96 L468.61,198.01 L468.94,200.27 L469.27,200.03 L469.60,200.35 L469.93,201.07 L470.26,199.57 L470.59,199.41 L470.92,201.99 L471.25,199.43 L471.58,200.96 L471.91,201.44 L472.24,202.60 L472.57,200.16 L472.90,202.17 L473.23,200.46 L473.56,201.75 L473.89,202.41 L474.22,203.26 L474.55,200.66 L474.88,202.14 L475.21,199.72 L475.54,199.87 L475.87,200.98 L476.20,199.97 L476.53,197.02 L476.86,196.19 L477.19,195.65 L477.52,197.27 L477.85,194.42 L478.18,196.78 L478.51,196.29 L478.84,195.73 L479.17,195.77 L479.50,193.45 L479.83,193.90 L480.16,191.70 L480.49,192.33 L480.82,189.29 L481.15,192.30 L481.48,195.08 L481.81,192.03 L482.14,194.17 L482.47,191.49 L482.80,193.50 L483.13,195.43 L483.46,198.87 L483.79,198.52 L484.12,201.49 L484.45,202.08 L484.78,204.83 L485.11,206.12 L485.44,202.29 L485.77,203.08 L486.10,201.76 L486.43,199.00 L486.76,201.07 L487.09,197.62 L487.42,199.13 L487.75,200.53 L488.08,196.10 L488.41,198.06 L488.74,196.15 L489.07,197.79 L489.40,195.19 L489.73,196.86 L490.06,198.38 L490.39,195.12 L490.72,195.84 L491.05,195.05 L491.38,194.61 L491.71,197.41 L492.04,198.25 L492.37,196.48 L492.70,195.96 L493.03,195.09 L493.36,194.67 L493.69,198.54 L494.02,195.88 L494.35,196.95 L494.68,194.63 L495.01,193.97 L495.34,192.98 L495.67,194.52 L496.00,195.15 L496.33,195.65 L496.66,196.07 L496.99,196.31 L497.32,197.17 L497.20,195.33 L497.40,186.60 L497.80,194.02 L498.20,195.65 L498.53,196.13 L498.86,194.48 L499.19,193.92 L499.52,196.23 L499.85,195.93 L500.18,193.25 L500.51,196.18 L500.84,193.95 L501.17,195.98 L501.50,192.13 L501.83,195.55 L502.16,197.75 L502.49,195.13 L502.82,197.78 L503.15,196.94 L503.48,193.47 L503.81,194.01 L504.14,195.66 L504.47,199.48 L504.80,197.94 L505.13,197.57 L505.46,198.58 L505.79,195.27 L506.12,193.67 L506.45,194.89 L506.78,197.02 L507.11,192.41 L507.44,193.78 L507.77,192.21 L508.10,192.11 L508.43,190.17 L508.76,194.27 L509.09,190.17 L509.42,192.70 L509.75,188.79 L510.08,189.75 L510.41,187.53 L510.74,190.98 L511.07,190.84 L511.40,190.70 L511.73,189.70 L512.06,192.45 L512.39,189.37 L512.72,194.70 L513.05,192.47 L513.38,193.49 L513.71,192.74 L514.04,190.79 L514.37,191.13 L514.70,195.32 L515.03,194.28 L515.36,193.39 L515.69,195.05 L516.02,197.11 L516.35,195.28 L516.68,195.53 L517.01,196.10 L517.34,197.92 L517.67,193.40 L518.00,197.13 L518.33,196.85 L518.66,197.83 L518.99,194.94 L519.32,198.85 L519.65,198.85 L519.98,196.16 L520.31,198.95 L520.64,196.46 L520.97,198.14 L521.30,196.96 L521.63,197.46 L521.96,199.01 L522.29,199.41 L522.62,198.93 L522.95,198.43 L523.28,199.52 L523.61,199.43 L523.94,199.47 L524.27,199.83 L524.60,200.26 L524.93,200.26 L525.26,199.80 L525.59,201.20 L525.92,200.84 L526.25,202.64 L526.58,203.41 L526.91,203.06 L527.24,202.09 L527.57,202.81 L527.90,203.87 L528.23,202.62 L528.56,204.61 L528.89,202.62 L529.22,205.20 L529.55,203.76 L529.88,204.20 L530.21,203.47 L530.54,204.01 L530.87,202.52 L531.20,201.31 L531.53,201.45 L531.86,202.86 L532.19,203.36 L532.52,200.89 L532.85,201.46 L533.18,202.31 L533.51,201.01 L533.84,200.92 L534.17,202.63 L534.50,200.82 L534.83,201.59 L535.16,202.50 L535.49,202.33 L535.82,203.81 L536.15,202.54 L536.48,202.44 L536.81,201.90 L537.14,203.91 L537.47,201.74 L537.80,201.76 L538.13,202.93 L538.46,204.25 L538.79,202.47 L539.12,202.99 L539.45,201.73 L539.78,202.17 L540.11,204.02 L540.44,203.65 L540.77,201.23 L541.10,203.68 L541.43,202.10 L541.76,200.97 L542.09,201.54 L542.42,203.19 L542.75,200.75 L543.08,202.48 L543.00,202.13 L543.20,192.90 L543.60,199.19 L544.00,200.25 L544.33,199.96 L544.66,200.63 L544.99,198.37 L545.32,200.26 L545.65,201.20 L545.98,200.00 L546.31,198.60 L546.64,199.53 L546.97,200.09 L547.30,200.10 L547.63,201.12 L547.96,199.55 L548.29,199.12 L548.62,201.15 L548.95,202.20 L549.28,200.75 L549.61,201.39 L549.94,201.53 L550.27,201.46 L550.60,201.87 L550.93,199.62 L551.26,201.68 L551.59,200.91 L551.92,200.79 L552.25,202.07 L552.58,200.08 L552.50,202.00 L552.70,190.20 L553.10,199.08 L553.50,199.51 L553.83,199.78 L554.16,200.23 L554.49,198.31 L554.82,199.60 L555.15,200.69 L555.48,199.75 L555.81,200.30 L556.14,198.69 L556.47,200.49 L556.80,198.67 L557.13,200.23 L557.46,198.87 L557.79,199.79 L558.12,199.28 L558.45,199.84 L558.78,199.47 L559.11,201.19 L559.44,200.79 L559.77,201.58 L560.10,201.73 L560.43,201.43 L560.76,201.11 L561.09,200.86 L561.42,201.60 L561.50,201.20 L561.70,186.70 L562.10,198.77 L562.50,197.71 L562.83,197.94 L563.16,196.98 L563.49,197.68 L563.82,199.04 L564.15,198.47 L564.48,198.68 L564.81,197.78 L565.14,198.04 L565.47,200.28 L565.80,200.13 L566.13,198.86 L566.46,200.59 L566.79,199.60 L567.12,200.17 L567.45,198.42 L567.78,200.86 L568.11,199.37 L568.44,198.44 L568.77,198.24 L569.10,198.24 L569.43,198.06 L569.76,200.38 L570.09,200.44 L570.42,198.85 L570.75,198.93 L571.08,200.78 L571.20,199.74 L571.40,168.20 L571.80,197.51 L572.20,198.20 L572.53,198.19 L572.86,197.15 L573.19,197.49 L573.52,197.52 L573.85,197.55 L574.18,198.74 L574.51,198.81 L574.84,199.90 L575.17,197.40 L575.50,198.09 L575.83,198.86 L576.16,199.75 L576.49,200.45 L576.82,200.03 L577.15,197.94 L577.48,200.02 L577.81,198.46 L577.70,200.11 L577.90,185.80 L578.30,197.68 L578.70,195.53 L579.03,195.64 L579.36,197.08 L579.69,198.64 L580.02,197.08 L580.35,196.48 L580.68,198.64 L581.01,197.57 L581.34,197.14 L581.67,197.64 L582.00,199.81 L582.33,199.99 L582.66,198.89 L582.99,198.94 L583.32,199.68 L583.65,198.74 L583.98,198.95 L583.90,200.63 L584.10,185.80 L584.50,197.84 L584.90,197.33 L585.23,198.26 L585.56,197.54 L585.89,198.54 L586.22,198.77 L586.55,197.17 L586.88,198.57 L587.21,198.48 L587.54,197.45 L587.87,197.78 L588.20,198.43 L588.53,200.22 L588.86,197.61 L589.19,200.51 L589.52,200.57 L589.85,199.03 L590.18,199.79 L590.51,198.91 L590.84,198.20 L591.17,198.21 L591.30,200.77 L591.50,181.40 L591.90,198.04 L592.30,196.39 L592.63,197.47 L592.96,197.03 L593.29,196.42 L593.62,197.76 L593.95,198.15 L594.28,199.83 L594.61,198.65 L594.94,200.17 L595.27,198.60 L595.60,200.06 L595.93,199.20 L596.26,197.83 L596.59,200.63 L596.92,200.03 L597.25,199.80 L597.58,199.46 L597.60,200.20 L597.80,184.10 L598.20,198.19 L598.60,198.33 L598.93,196.13 L599.26,196.53 L599.59,198.75 L599.92,197.52 L600.25,197.84 L600.58,197.83 L600.91,198.57 L601.24,199.70 L601.57,198.48 L601.90,198.01 L602.23,199.40 L602.56,198.92 L602.89,200.66 L603.22,198.26 L603.30,200.76 L603.50,185.00 L603.90,198.34 L604.30,196.96 L604.63,198.39 L604.96,196.77 L605.29,198.81 L605.62,198.31 L605.95,199.35 L606.28,199.47 L606.61,198.73 L606.94,199.55 L607.27,197.94 L607.60,199.94 L607.93,198.45 L608.26,199.62 L608.59,198.55 L608.92,201.01 L609.25,199.47 L609.58,200.33 L609.40,201.00 L609.60,182.30 L610.00,198.49 L610.40,198.01 L610.73,196.83 L611.06,198.85 L611.39,197.97 L611.72,198.98 L612.05,200.10 L612.38,199.50 L612.71,200.01 L613.04,199.41 L612.90,201.44 L613.10,191.10 L613.50,198.97 L613.90,198.48 L614.23,197.52 L614.56,196.55 L614.89,197.69 L615.22,198.48 L615.55,197.38 L615.88,197.88 L616.21,199.54 L616.54,198.59 L616.87,201.11 L617.20,198.86 L617.53,199.61 L617.40,201.73 L617.60,182.30 L618.00,199.64 L618.40,197.63 L618.73,196.87 L619.06,199.00 L619.39,197.89 L619.72,198.10 L620.05,199.14 L620.38,198.89 L620.71,199.75 L621.04,202.26 L620.90,203.18 L621.10,197.30 L621.50,200.86 L621.90,199.95 L622.23,200.41 L622.56,201.02 L622.89,200.90 L623.22,201.38 L623.55,202.51 L623.88,201.48 L624.21,201.65 L624.54,202.29 L624.87,202.20 L625.20,203.60 L625.30,205.44 L625.50,187.60 L625.90,203.34 L626.30,201.05 L626.63,201.63 L626.96,200.83 L627.29,202.31 L627.62,201.97 L627.95,201.54 L628.28,202.29 L628.61,200.92 L628.94,202.55 L629.27,201.51 L629.30,205.16 L629.50,196.40 L629.90,202.21 L630.30,200.15 L630.63,200.29 L630.96,199.56 L631.29,199.34 L631.62,199.73 L631.95,200.45 L632.28,200.22 L632.61,202.66 L632.94,201.19 L633.27,201.85 L633.60,202.00 L633.93,202.21 L634.26,201.88 L634.59,203.63 L634.92,204.31 L635.25,203.73 L635.58,202.93 L635.91,204.74 L636.24,202.73 L636.57,204.89 L636.90,204.31 L637.23,203.75 L637.56,206.28 L637.89,203.74 L638.22,204.64 L638.55,205.82 L638.88,203.89 L639.21,205.76 L639.54,203.19 L639.87,203.43 L640.20,205.23 L640.53,202.44 L640.86,204.62 L641.19,202.20 L641.52,202.56 L641.85,202.01 L642.18,202.76 L642.51,202.39 L642.84,200.70 L643.17,200.66 L643.50,201.03 L643.83,201.99 L644.16,199.33 L644.49,197.38 L644.82,195.38 L645.15,192.52 L645.48,190.57 L645.81,186.68 L645.90,185.23 L646.10,158.20 L646.50,182.50 L646.90,181.88 L647.23,182.76 L647.56,182.88 L647.89,185.79 L648.22,184.26 L648.55,185.66 L648.88,185.74 L649.21,186.08 L649.54,186.09 L649.87,187.45 L650.20,188.04 L650.53,188.57 L650.86,189.44 L651.19,189.89 L651.52,188.30 L651.85,187.77 L652.18,186.08 L652.51,186.10 L652.84,185.35 L653.17,186.34 L653.50,184.40 L653.83,185.23 L654.16,184.29 L654.49,186.06 L654.30,185.06 L654.50,157.60 L654.90,184.39" fill="none" stroke="#d0262c" stroke-width="1.1" stroke-linejoin="round" stroke-linecap="round"/>
<text transform="matrix(1.0588,0,0,1.0,420.77,172.40)" x="0" y="0" font-weight="bold" fill="#000" xml:space="preserve"><tspan font-size="13.7" dy="0.00">D</tspan><tspan font-size="14" dy="0.00" font-weight="normal" font-family="Liberation Serif">&#945;</tspan><tspan font-size="13.7" dy="0.00">, a.u.</tspan></text>
<path d="M486.50,244.80 L499.80,242.50 L506.60,238.90 L512.80,237.50 L519.40,234.70 L525.90,231.30 L532.60,227.00 L539.20,225.50 L545.60,230.00 L552.20,220.00 L558.80,227.40 L565.40,230.30 L572.00,236.30 L578.30,233.20 L585.00,237.00" fill="none" stroke="#888" stroke-width="0.6" stroke-linejoin="round" stroke-linecap="round"/>
<path d="M495.00,258.70 L500.59,259.50 L506.18,257.90 L511.77,251.70 L517.36,243.70 L522.95,242.90 L528.54,242.50 L534.13,239.60 L539.72,241.50 L545.31,241.50 L550.90,242.00 L556.49,243.50 L562.08,240.00 L567.67,243.50 L573.26,241.50 L578.85,242.50 L584.44,240.75 L590.03,240.75 L595.62,240.75 L601.21,245.50 L606.80,248.00 L612.39,250.75 L617.98,251.25 L623.57,252.00 L629.16,253.75 L634.75,256.75" fill="none" stroke="#e88" stroke-width="0.6" stroke-linejoin="round" stroke-linecap="round"/>
<line x1="495.00" y1="253.70" x2="495.00" y2="263.70" stroke="#ee9090" stroke-width="0.7"/>
<line x1="493.00" y1="253.70" x2="497.00" y2="253.70" stroke="#ee9090" stroke-width="0.7"/>
<line x1="493.00" y1="263.70" x2="497.00" y2="263.70" stroke="#ee9090" stroke-width="0.7"/>
<line x1="500.59" y1="253.50" x2="500.59" y2="265.50" stroke="#ee9090" stroke-width="0.7"/>
<line x1="498.59" y1="253.50" x2="502.59" y2="253.50" stroke="#ee9090" stroke-width="0.7"/>
<line x1="498.59" y1="265.50" x2="502.59" y2="265.50" stroke="#ee9090" stroke-width="0.7"/>
<line x1="506.18" y1="252.90" x2="506.18" y2="262.90" stroke="#ee9090" stroke-width="0.7"/>
<line x1="504.18" y1="252.90" x2="508.18" y2="252.90" stroke="#ee9090" stroke-width="0.7"/>
<line x1="504.18" y1="262.90" x2="508.18" y2="262.90" stroke="#ee9090" stroke-width="0.7"/>
<line x1="511.77" y1="246.70" x2="511.77" y2="256.70" stroke="#ee9090" stroke-width="0.7"/>
<line x1="509.77" y1="246.70" x2="513.77" y2="246.70" stroke="#ee9090" stroke-width="0.7"/>
<line x1="509.77" y1="256.70" x2="513.77" y2="256.70" stroke="#ee9090" stroke-width="0.7"/>
<line x1="517.36" y1="237.70" x2="517.36" y2="249.70" stroke="#ee9090" stroke-width="0.7"/>
<line x1="515.36" y1="237.70" x2="519.36" y2="237.70" stroke="#ee9090" stroke-width="0.7"/>
<line x1="515.36" y1="249.70" x2="519.36" y2="249.70" stroke="#ee9090" stroke-width="0.7"/>
<line x1="522.95" y1="236.90" x2="522.95" y2="248.90" stroke="#ee9090" stroke-width="0.7"/>
<line x1="520.95" y1="236.90" x2="524.95" y2="236.90" stroke="#ee9090" stroke-width="0.7"/>
<line x1="520.95" y1="248.90" x2="524.95" y2="248.90" stroke="#ee9090" stroke-width="0.7"/>
<line x1="528.54" y1="229.50" x2="528.54" y2="255.50" stroke="#ee9090" stroke-width="0.7"/>
<line x1="526.54" y1="229.50" x2="530.54" y2="229.50" stroke="#ee9090" stroke-width="0.7"/>
<line x1="526.54" y1="255.50" x2="530.54" y2="255.50" stroke="#ee9090" stroke-width="0.7"/>
<line x1="534.13" y1="233.60" x2="534.13" y2="245.60" stroke="#ee9090" stroke-width="0.7"/>
<line x1="532.13" y1="233.60" x2="536.13" y2="233.60" stroke="#ee9090" stroke-width="0.7"/>
<line x1="532.13" y1="245.60" x2="536.13" y2="245.60" stroke="#ee9090" stroke-width="0.7"/>
<line x1="539.72" y1="234.50" x2="539.72" y2="248.50" stroke="#ee9090" stroke-width="0.7"/>
<line x1="537.72" y1="234.50" x2="541.72" y2="234.50" stroke="#ee9090" stroke-width="0.7"/>
<line x1="537.72" y1="248.50" x2="541.72" y2="248.50" stroke="#ee9090" stroke-width="0.7"/>
<line x1="545.31" y1="236.50" x2="545.31" y2="246.50" stroke="#ee9090" stroke-width="0.7"/>
<line x1="543.31" y1="236.50" x2="547.31" y2="236.50" stroke="#ee9090" stroke-width="0.7"/>
<line x1="543.31" y1="246.50" x2="547.31" y2="246.50" stroke="#ee9090" stroke-width="0.7"/>
<line x1="550.90" y1="237.00" x2="550.90" y2="247.00" stroke="#ee9090" stroke-width="0.7"/>
<line x1="548.90" y1="237.00" x2="552.90" y2="237.00" stroke="#ee9090" stroke-width="0.7"/>
<line x1="548.90" y1="247.00" x2="552.90" y2="247.00" stroke="#ee9090" stroke-width="0.7"/>
<line x1="556.49" y1="238.50" x2="556.49" y2="248.50" stroke="#ee9090" stroke-width="0.7"/>
<line x1="554.49" y1="238.50" x2="558.49" y2="238.50" stroke="#ee9090" stroke-width="0.7"/>
<line x1="554.49" y1="248.50" x2="558.49" y2="248.50" stroke="#ee9090" stroke-width="0.7"/>
<line x1="562.08" y1="234.00" x2="562.08" y2="246.00" stroke="#ee9090" stroke-width="0.7"/>
<line x1="560.08" y1="234.00" x2="564.08" y2="234.00" stroke="#ee9090" stroke-width="0.7"/>
<line x1="560.08" y1="246.00" x2="564.08" y2="246.00" stroke="#ee9090" stroke-width="0.7"/>
<line x1="567.67" y1="237.50" x2="567.67" y2="249.50" stroke="#ee9090" stroke-width="0.7"/>
<line x1="565.67" y1="237.50" x2="569.67" y2="237.50" stroke="#ee9090" stroke-width="0.7"/>
<line x1="565.67" y1="249.50" x2="569.67" y2="249.50" stroke="#ee9090" stroke-width="0.7"/>
<line x1="573.26" y1="235.50" x2="573.26" y2="247.50" stroke="#ee9090" stroke-width="0.7"/>
<line x1="571.26" y1="235.50" x2="575.26" y2="235.50" stroke="#ee9090" stroke-width="0.7"/>
<line x1="571.26" y1="247.50" x2="575.26" y2="247.50" stroke="#ee9090" stroke-width="0.7"/>
<line x1="578.85" y1="237.50" x2="578.85" y2="247.50" stroke="#ee9090" stroke-width="0.7"/>
<line x1="576.85" y1="237.50" x2="580.85" y2="237.50" stroke="#ee9090" stroke-width="0.7"/>
<line x1="576.85" y1="247.50" x2="580.85" y2="247.50" stroke="#ee9090" stroke-width="0.7"/>
<line x1="584.44" y1="235.75" x2="584.44" y2="245.75" stroke="#ee9090" stroke-width="0.7"/>
<line x1="582.44" y1="235.75" x2="586.44" y2="235.75" stroke="#ee9090" stroke-width="0.7"/>
<line x1="582.44" y1="245.75" x2="586.44" y2="245.75" stroke="#ee9090" stroke-width="0.7"/>
<line x1="590.03" y1="235.75" x2="590.03" y2="245.75" stroke="#ee9090" stroke-width="0.7"/>
<line x1="588.03" y1="235.75" x2="592.03" y2="235.75" stroke="#ee9090" stroke-width="0.7"/>
<line x1="588.03" y1="245.75" x2="592.03" y2="245.75" stroke="#ee9090" stroke-width="0.7"/>
<line x1="595.62" y1="235.75" x2="595.62" y2="245.75" stroke="#ee9090" stroke-width="0.7"/>
<line x1="593.62" y1="235.75" x2="597.62" y2="235.75" stroke="#ee9090" stroke-width="0.7"/>
<line x1="593.62" y1="245.75" x2="597.62" y2="245.75" stroke="#ee9090" stroke-width="0.7"/>
<line x1="601.21" y1="240.50" x2="601.21" y2="250.50" stroke="#ee9090" stroke-width="0.7"/>
<line x1="599.21" y1="240.50" x2="603.21" y2="240.50" stroke="#ee9090" stroke-width="0.7"/>
<line x1="599.21" y1="250.50" x2="603.21" y2="250.50" stroke="#ee9090" stroke-width="0.7"/>
<line x1="606.80" y1="244.00" x2="606.80" y2="252.00" stroke="#ee9090" stroke-width="0.7"/>
<line x1="604.80" y1="244.00" x2="608.80" y2="244.00" stroke="#ee9090" stroke-width="0.7"/>
<line x1="604.80" y1="252.00" x2="608.80" y2="252.00" stroke="#ee9090" stroke-width="0.7"/>
<line x1="612.39" y1="246.75" x2="612.39" y2="254.75" stroke="#ee9090" stroke-width="0.7"/>
<line x1="610.39" y1="246.75" x2="614.39" y2="246.75" stroke="#ee9090" stroke-width="0.7"/>
<line x1="610.39" y1="254.75" x2="614.39" y2="254.75" stroke="#ee9090" stroke-width="0.7"/>
<line x1="617.98" y1="247.25" x2="617.98" y2="255.25" stroke="#ee9090" stroke-width="0.7"/>
<line x1="615.98" y1="247.25" x2="619.98" y2="247.25" stroke="#ee9090" stroke-width="0.7"/>
<line x1="615.98" y1="255.25" x2="619.98" y2="255.25" stroke="#ee9090" stroke-width="0.7"/>
<line x1="623.57" y1="248.00" x2="623.57" y2="256.00" stroke="#ee9090" stroke-width="0.7"/>
<line x1="621.57" y1="248.00" x2="625.57" y2="248.00" stroke="#ee9090" stroke-width="0.7"/>
<line x1="621.57" y1="256.00" x2="625.57" y2="256.00" stroke="#ee9090" stroke-width="0.7"/>
<line x1="629.16" y1="249.75" x2="629.16" y2="257.75" stroke="#ee9090" stroke-width="0.7"/>
<line x1="627.16" y1="249.75" x2="631.16" y2="249.75" stroke="#ee9090" stroke-width="0.7"/>
<line x1="627.16" y1="257.75" x2="631.16" y2="257.75" stroke="#ee9090" stroke-width="0.7"/>
<line x1="634.75" y1="252.75" x2="634.75" y2="260.75" stroke="#ee9090" stroke-width="0.7"/>
<line x1="632.75" y1="252.75" x2="636.75" y2="252.75" stroke="#ee9090" stroke-width="0.7"/>
<line x1="632.75" y1="260.75" x2="636.75" y2="260.75" stroke="#ee9090" stroke-width="0.7"/>
<line x1="486.50" y1="240.80" x2="486.50" y2="248.80" stroke="#8a8a8a" stroke-width="0.6"/>
<line x1="484.50" y1="240.80" x2="488.50" y2="240.80" stroke="#8a8a8a" stroke-width="0.6"/>
<line x1="484.50" y1="248.80" x2="488.50" y2="248.80" stroke="#8a8a8a" stroke-width="0.6"/>
<line x1="499.80" y1="238.50" x2="499.80" y2="246.50" stroke="#8a8a8a" stroke-width="0.6"/>
<line x1="497.80" y1="238.50" x2="501.80" y2="238.50" stroke="#8a8a8a" stroke-width="0.6"/>
<line x1="497.80" y1="246.50" x2="501.80" y2="246.50" stroke="#8a8a8a" stroke-width="0.6"/>
<line x1="506.60" y1="234.90" x2="506.60" y2="242.90" stroke="#8a8a8a" stroke-width="0.6"/>
<line x1="504.60" y1="234.90" x2="508.60" y2="234.90" stroke="#8a8a8a" stroke-width="0.6"/>
<line x1="504.60" y1="242.90" x2="508.60" y2="242.90" stroke="#8a8a8a" stroke-width="0.6"/>
<line x1="512.80" y1="233.50" x2="512.80" y2="241.50" stroke="#8a8a8a" stroke-width="0.6"/>
<line x1="510.80" y1="233.50" x2="514.80" y2="233.50" stroke="#8a8a8a" stroke-width="0.6"/>
<line x1="510.80" y1="241.50" x2="514.80" y2="241.50" stroke="#8a8a8a" stroke-width="0.6"/>
<line x1="519.40" y1="230.70" x2="519.40" y2="238.70" stroke="#8a8a8a" stroke-width="0.6"/>
<line x1="517.40" y1="230.70" x2="521.40" y2="230.70" stroke="#8a8a8a" stroke-width="0.6"/>
<line x1="517.40" y1="238.70" x2="521.40" y2="238.70" stroke="#8a8a8a" stroke-width="0.6"/>
<line x1="525.90" y1="227.30" x2="525.90" y2="235.30" stroke="#8a8a8a" stroke-width="0.6"/>
<line x1="523.90" y1="227.30" x2="527.90" y2="227.30" stroke="#8a8a8a" stroke-width="0.6"/>
<line x1="523.90" y1="235.30" x2="527.90" y2="235.30" stroke="#8a8a8a" stroke-width="0.6"/>
<line x1="532.60" y1="223.00" x2="532.60" y2="231.00" stroke="#8a8a8a" stroke-width="0.6"/>
<line x1="530.60" y1="223.00" x2="534.60" y2="223.00" stroke="#8a8a8a" stroke-width="0.6"/>
<line x1="530.60" y1="231.00" x2="534.60" y2="231.00" stroke="#8a8a8a" stroke-width="0.6"/>
<line x1="539.20" y1="221.50" x2="539.20" y2="229.50" stroke="#8a8a8a" stroke-width="0.6"/>
<line x1="537.20" y1="221.50" x2="541.20" y2="221.50" stroke="#8a8a8a" stroke-width="0.6"/>
<line x1="537.20" y1="229.50" x2="541.20" y2="229.50" stroke="#8a8a8a" stroke-width="0.6"/>
<line x1="545.60" y1="226.00" x2="545.60" y2="234.00" stroke="#8a8a8a" stroke-width="0.6"/>
<line x1="543.60" y1="226.00" x2="547.60" y2="226.00" stroke="#8a8a8a" stroke-width="0.6"/>
<line x1="543.60" y1="234.00" x2="547.60" y2="234.00" stroke="#8a8a8a" stroke-width="0.6"/>
<line x1="552.20" y1="216.00" x2="552.20" y2="224.00" stroke="#8a8a8a" stroke-width="0.6"/>
<line x1="550.20" y1="216.00" x2="554.20" y2="216.00" stroke="#8a8a8a" stroke-width="0.6"/>
<line x1="550.20" y1="224.00" x2="554.20" y2="224.00" stroke="#8a8a8a" stroke-width="0.6"/>
<line x1="558.80" y1="223.40" x2="558.80" y2="231.40" stroke="#8a8a8a" stroke-width="0.6"/>
<line x1="556.80" y1="223.40" x2="560.80" y2="223.40" stroke="#8a8a8a" stroke-width="0.6"/>
<line x1="556.80" y1="231.40" x2="560.80" y2="231.40" stroke="#8a8a8a" stroke-width="0.6"/>
<line x1="565.40" y1="226.30" x2="565.40" y2="234.30" stroke="#8a8a8a" stroke-width="0.6"/>
<line x1="563.40" y1="226.30" x2="567.40" y2="226.30" stroke="#8a8a8a" stroke-width="0.6"/>
<line x1="563.40" y1="234.30" x2="567.40" y2="234.30" stroke="#8a8a8a" stroke-width="0.6"/>
<line x1="572.00" y1="232.30" x2="572.00" y2="240.30" stroke="#8a8a8a" stroke-width="0.6"/>
<line x1="570.00" y1="232.30" x2="574.00" y2="232.30" stroke="#8a8a8a" stroke-width="0.6"/>
<line x1="570.00" y1="240.30" x2="574.00" y2="240.30" stroke="#8a8a8a" stroke-width="0.6"/>
<line x1="578.30" y1="229.20" x2="578.30" y2="237.20" stroke="#8a8a8a" stroke-width="0.6"/>
<line x1="576.30" y1="229.20" x2="580.30" y2="229.20" stroke="#8a8a8a" stroke-width="0.6"/>
<line x1="576.30" y1="237.20" x2="580.30" y2="237.20" stroke="#8a8a8a" stroke-width="0.6"/>
<line x1="585.00" y1="233.00" x2="585.00" y2="241.00" stroke="#8a8a8a" stroke-width="0.6"/>
<line x1="583.00" y1="233.00" x2="587.00" y2="233.00" stroke="#8a8a8a" stroke-width="0.6"/>
<line x1="583.00" y1="241.00" x2="587.00" y2="241.00" stroke="#8a8a8a" stroke-width="0.6"/>
<circle cx="495.00" cy="258.70" r="2.8" fill="#d01a20"/>
<circle cx="500.59" cy="259.50" r="2.8" fill="#d01a20"/>
<circle cx="506.18" cy="257.90" r="2.8" fill="#d01a20"/>
<circle cx="511.77" cy="251.70" r="2.8" fill="#d01a20"/>
<circle cx="517.36" cy="243.70" r="2.8" fill="#d01a20"/>
<circle cx="522.95" cy="242.90" r="2.8" fill="#d01a20"/>
<circle cx="528.54" cy="242.50" r="2.8" fill="#d01a20"/>
<circle cx="534.13" cy="239.60" r="2.8" fill="#d01a20"/>
<circle cx="539.72" cy="241.50" r="2.8" fill="#d01a20"/>
<circle cx="545.31" cy="241.50" r="2.8" fill="#d01a20"/>
<circle cx="550.90" cy="242.00" r="2.8" fill="#d01a20"/>
<circle cx="556.49" cy="243.50" r="2.8" fill="#d01a20"/>
<circle cx="562.08" cy="240.00" r="2.8" fill="#d01a20"/>
<circle cx="567.67" cy="243.50" r="2.8" fill="#d01a20"/>
<circle cx="573.26" cy="241.50" r="2.8" fill="#d01a20"/>
<circle cx="578.85" cy="242.50" r="2.8" fill="#d01a20"/>
<circle cx="584.44" cy="240.75" r="2.8" fill="#d01a20"/>
<circle cx="590.03" cy="240.75" r="2.8" fill="#d01a20"/>
<circle cx="595.62" cy="240.75" r="2.8" fill="#d01a20"/>
<circle cx="601.21" cy="245.50" r="2.8" fill="#d01a20"/>
<circle cx="606.80" cy="248.00" r="2.8" fill="#d01a20"/>
<circle cx="612.39" cy="250.75" r="2.8" fill="#d01a20"/>
<circle cx="617.98" cy="251.25" r="2.8" fill="#d01a20"/>
<circle cx="623.57" cy="252.00" r="2.8" fill="#d01a20"/>
<circle cx="629.16" cy="253.75" r="2.8" fill="#d01a20"/>
<circle cx="634.75" cy="256.75" r="2.8" fill="#d01a20"/>
<rect x="484.00" y="242.30" width="5" height="5" fill="#000"/>
<rect x="497.30" y="240.00" width="5" height="5" fill="#000"/>
<rect x="504.10" y="236.40" width="5" height="5" fill="#000"/>
<rect x="510.30" y="235.00" width="5" height="5" fill="#000"/>
<rect x="516.90" y="232.20" width="5" height="5" fill="#000"/>
<rect x="523.40" y="228.80" width="5" height="5" fill="#000"/>
<rect x="530.10" y="224.50" width="5" height="5" fill="#000"/>
<rect x="536.70" y="223.00" width="5" height="5" fill="#000"/>
<rect x="543.10" y="227.50" width="5" height="5" fill="#000"/>
<rect x="549.70" y="217.50" width="5" height="5" fill="#000"/>
<rect x="556.30" y="224.90" width="5" height="5" fill="#000"/>
<rect x="562.90" y="227.80" width="5" height="5" fill="#000"/>
<rect x="569.50" y="233.80" width="5" height="5" fill="#000"/>
<rect x="575.80" y="230.70" width="5" height="5" fill="#000"/>
<rect x="582.50" y="234.50" width="5" height="5" fill="#000"/>
<line x1="416.40" y1="228.40" x2="442.80" y2="228.40" stroke="#999" stroke-width="0.7"/>
<rect x="427.2" y="226" width="5" height="5" fill="#000"/>
<line x1="416.40" y1="248.30" x2="442.80" y2="248.30" stroke="#f08080" stroke-width="0.7"/>
<circle cx="429.6" cy="248.3" r="2.7" fill="#d01a20"/>
<text transform="matrix(0.9800,0,0,1.0,446.25,232.60)" x="0" y="0" fill="#111" xml:space="preserve"><tspan font-size="12" dy="0.00">T</tspan><tspan font-size="6.5" dy="4.00">e</tspan><tspan font-size="7.5" dy="-9.70">core</tspan></text>
<text transform="matrix(0.9825,0,0,1.0,446.25,252.50)" x="0" y="0" fill="#111" xml:space="preserve"><tspan font-size="12.5" dy="0.00">T</tspan></text>
<text x="454.00" y="257.00" font-size="6.5" text-anchor="start" fill="#111">i</text>
<text transform="matrix(1.1495,0,0,1.0,454.43,246.40)" x="0" y="0" fill="#111" xml:space="preserve"><tspan font-size="6.8" dy="0.00">NPA</tspan></text>
<path d="M478.50,307.40 C479.22,307.15 481.38,306.05 482.80,305.90 C484.22,305.75 485.58,306.25 487.00,306.50 C488.42,306.75 489.97,307.52 491.30,307.40 C492.63,307.28 493.58,306.52 495.00,305.80 C496.42,305.08 497.75,303.90 499.80,303.10 C501.85,302.30 505.17,302.13 507.30,301.00 C509.43,299.87 510.83,297.80 512.60,296.30 C514.37,294.80 515.77,293.07 517.90,292.00 C520.03,290.93 523.08,290.95 525.40,289.90 C527.72,288.85 529.67,286.77 531.80,285.70 C533.93,284.63 536.07,283.93 538.20,283.50 C540.33,283.07 541.77,282.98 544.60,283.10 C547.43,283.22 552.00,284.05 555.20,284.20 C558.40,284.35 560.60,283.75 563.80,284.00 C567.00,284.25 570.68,285.60 574.40,285.70 C578.12,285.80 584.15,284.78 586.10,284.60" fill="none" stroke="#d01a20" stroke-width="2.0" stroke-linejoin="round" stroke-linecap="round"/>
<line x1="550.50" y1="282.50" x2="550.50" y2="292.00" stroke="#555" stroke-width="0.7"/>
<line x1="548.50" y1="282.50" x2="552.50" y2="282.50" stroke="#555" stroke-width="0.7"/>
<line x1="548.50" y1="292.00" x2="552.50" y2="292.00" stroke="#555" stroke-width="0.7"/>
<rect x="548.20" y="284.40" width="4.6" height="4.6" fill="#000"/>
<line x1="573.30" y1="280.30" x2="573.30" y2="292.50" stroke="#555" stroke-width="0.7"/>
<line x1="571.30" y1="280.30" x2="575.30" y2="280.30" stroke="#555" stroke-width="0.7"/>
<line x1="571.30" y1="292.50" x2="575.30" y2="292.50" stroke="#555" stroke-width="0.7"/>
<rect x="571.00" y="284.40" width="4.6" height="4.6" fill="#000"/>
<line x1="578.50" y1="291.30" x2="592.50" y2="297.40" stroke="#000" stroke-width="0.8"/>
<path d="M576.8,290.6 L581.2,290.9 L580.2,293.3 Z" fill="#000"/>
<text transform="matrix(1.0290,0,0,1.0,418.00,289.50)" x="0" y="0" font-weight="bold" fill="#000" xml:space="preserve"><tspan font-size="14" dy="0.00">W,kJ</tspan></text>
<text transform="matrix(1.0514,0,0,1.0,591.90,307.00)" x="0" y="0" font-weight="bold" fill="#000" xml:space="preserve"><tspan font-size="13" dy="0.00">W</tspan><tspan font-size="11" dy="5.90">th</tspan></text>
<path d="M413.50,394.00 L505.60,394.00 L506.90,374.10 L508.60,357.00 L510.00,353.00 L511.20,352.30" fill="none" stroke="#d01a20" stroke-width="1.6" stroke-linejoin="round" stroke-linecap="round"/>
<path d="M511.20,352.30 C511.92,352.47 513.65,353.42 515.50,353.30 C517.35,353.18 520.03,351.88 522.30,351.60 C524.57,351.32 526.27,351.40 529.10,351.60 C531.93,351.80 535.90,352.75 539.30,352.80 C542.70,352.85 546.37,351.77 549.50,351.90 C552.63,352.03 554.40,352.88 558.10,353.60 C561.80,354.32 567.45,355.35 571.70,356.20 C575.95,357.05 580.18,357.85 583.60,358.70 C587.02,359.55 589.92,360.43 592.20,361.30 C594.48,362.17 596.45,363.47 597.30,363.90" fill="none" stroke="#d01a20" stroke-width="1.7" stroke-linejoin="round" stroke-linecap="round"/>
<path d="M597.30,363.90 L598.10,394.30 L655.00,394.30" fill="none" stroke="#d01a20" stroke-width="1.6" stroke-linejoin="round" stroke-linecap="round"/>
<text transform="matrix(1.0849,0,0,1.0,417.15,351.50)" x="0" y="0" font-weight="bold" fill="#000" xml:space="preserve"><tspan font-size="13.5" dy="0.00">I</tspan><tspan font-size="10.5" dy="6.00">NBI,</tspan><tspan font-size="13.5" dy="-6.00"> A</tspan></text>
<text transform="matrix(1.0299,0,0,1.0,417.98,374.40)" x="0" y="0" font-weight="bold" fill="#000" xml:space="preserve"><tspan font-size="11.5" dy="0.00">P</tspan><tspan font-size="7.1" dy="3.80">NBI</tspan><tspan font-size="11.5" dy="-3.80">=0.85 MW</tspan></text>
<rect x="413.2" y="36.5" width="242.40" height="358.00" fill="none" stroke="#3a3a3a" stroke-width="1.3" stroke-opacity="0.85"/>
<line x1="413.20" y1="96.30" x2="655.60" y2="96.30" stroke="#3a3a3a" stroke-width="1.3" stroke-opacity="0.85"/>
<line x1="413.20" y1="156.30" x2="655.60" y2="156.30" stroke="#3a3a3a" stroke-width="1.3" stroke-opacity="0.85"/>
<line x1="413.20" y1="215.60" x2="655.60" y2="215.60" stroke="#3a3a3a" stroke-width="1.3" stroke-opacity="0.85"/>
<line x1="413.20" y1="275.50" x2="655.60" y2="275.50" stroke="#3a3a3a" stroke-width="1.3" stroke-opacity="0.85"/>
<line x1="413.20" y1="335.40" x2="655.60" y2="335.40" stroke="#3a3a3a" stroke-width="1.3" stroke-opacity="0.85"/>
</svg></body></html>
